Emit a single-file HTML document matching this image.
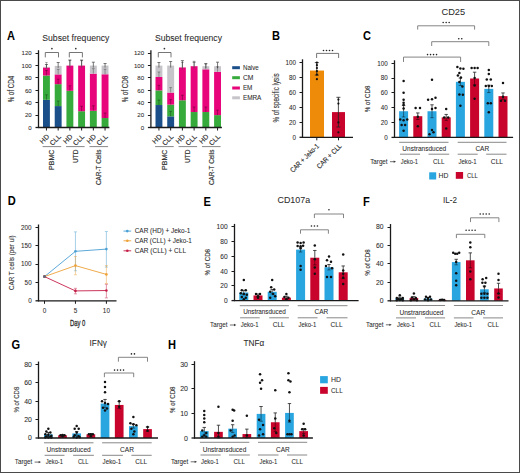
<!DOCTYPE html>
<html><head><meta charset="utf-8"><style>
html,body{margin:0;padding:0;background:#fff;width:520px;height:473px;overflow:hidden;}
svg{display:block;}
text{font-family:"Liberation Sans",sans-serif;}
</style></head><body>
<svg width="520" height="473" viewBox="0 0 520 473">
<rect width="520" height="473" fill="#fff"/>
<rect x="0.5" y="0.5" width="519" height="472" fill="none" stroke="#4a4a4a" stroke-width="1"/>
<text transform="translate(7 40) scale(0.88 1)" font-size="12.6" font-weight="bold" fill="#000">A</text>
<text transform="translate(272 40) scale(0.88 1)" font-size="12.6" font-weight="bold" fill="#000">B</text>
<text transform="translate(363 40.3) scale(0.88 1)" font-size="12.6" font-weight="bold" fill="#000">C</text>
<text transform="translate(7.7 205.2) scale(0.88 1)" font-size="12.6" font-weight="bold" fill="#000">D</text>
<text transform="translate(203.5 205.7) scale(0.88 1)" font-size="12.6" font-weight="bold" fill="#000">E</text>
<text transform="translate(363 205.6) scale(0.88 1)" font-size="12.6" font-weight="bold" fill="#000">F</text>
<text transform="translate(11.5 349) scale(0.88 1)" font-size="12.6" font-weight="bold" fill="#000">G</text>
<text transform="translate(168 349) scale(0.88 1)" font-size="12.6" font-weight="bold" fill="#000">H</text>
<text x="42.3" y="41.1" font-size="8.9" text-anchor="start" fill="#2b2b2b" font-weight="normal" stroke="#2b2b2b" stroke-width="0.06" textLength="67.1" lengthAdjust="spacingAndGlyphs">Subset frequency</text>
<rect x="43" y="99.83" width="6.9" height="27.67" fill="#1b4f8a"/>
<rect x="43" y="75.5" width="6.9" height="24.33" fill="#37aa3c"/>
<rect x="43" y="67.46" width="6.9" height="8.05" fill="#e8047a"/>
<rect x="43" y="66.84" width="6.9" height="0.62" fill="#c6c4c8"/>
<line x1="46.45" y1="64.49" x2="46.45" y2="68.84" stroke="#555" stroke-width="0.8"/>
<line x1="44.95" y1="64.49" x2="47.95" y2="64.49" stroke="#555" stroke-width="0.8"/>
<line x1="46.45" y1="94.83" x2="46.45" y2="99.83" stroke="rgba(0,0,0,0.38)" stroke-width="0.8"/>
<line x1="45.15" y1="94.83" x2="47.75" y2="94.83" stroke="rgba(0,0,0,0.38)" stroke-width="0.8"/>
<line x1="46.45" y1="70.5" x2="46.45" y2="75.5" stroke="rgba(0,0,0,0.38)" stroke-width="0.8"/>
<line x1="45.15" y1="70.5" x2="47.75" y2="70.5" stroke="rgba(0,0,0,0.38)" stroke-width="0.8"/>
<line x1="46.45" y1="62.46" x2="46.45" y2="67.46" stroke="rgba(0,0,0,0.38)" stroke-width="0.8"/>
<line x1="45.15" y1="62.46" x2="47.75" y2="62.46" stroke="rgba(0,0,0,0.38)" stroke-width="0.8"/>
<line x1="46.45" y1="127.5" x2="46.45" y2="130.5" stroke="#1a1a1a" stroke-width="1"/>
<rect x="54.72" y="106.08" width="6.9" height="21.42" fill="#1b4f8a"/>
<rect x="54.72" y="84.17" width="6.9" height="21.91" fill="#37aa3c"/>
<rect x="54.72" y="74.39" width="6.9" height="9.78" fill="#e8047a"/>
<rect x="54.72" y="65.91" width="6.9" height="8.48" fill="#c6c4c8"/>
<line x1="58.17" y1="62.5" x2="58.17" y2="67.91" stroke="#555" stroke-width="0.8"/>
<line x1="56.67" y1="62.5" x2="59.67" y2="62.5" stroke="#555" stroke-width="0.8"/>
<line x1="58.17" y1="101.08" x2="58.17" y2="106.08" stroke="rgba(0,0,0,0.38)" stroke-width="0.8"/>
<line x1="56.87" y1="101.08" x2="59.47" y2="101.08" stroke="rgba(0,0,0,0.38)" stroke-width="0.8"/>
<line x1="58.17" y1="79.17" x2="58.17" y2="84.17" stroke="rgba(0,0,0,0.38)" stroke-width="0.8"/>
<line x1="56.87" y1="79.17" x2="59.47" y2="79.17" stroke="rgba(0,0,0,0.38)" stroke-width="0.8"/>
<line x1="58.17" y1="69.39" x2="58.17" y2="74.39" stroke="rgba(0,0,0,0.38)" stroke-width="0.8"/>
<line x1="56.87" y1="69.39" x2="59.47" y2="69.39" stroke="rgba(0,0,0,0.38)" stroke-width="0.8"/>
<line x1="58.17" y1="127.5" x2="58.17" y2="130.5" stroke="#1a1a1a" stroke-width="1"/>
<rect x="66.44" y="90.79" width="6.9" height="36.71" fill="#37aa3c"/>
<rect x="66.44" y="65.6" width="6.9" height="25.19" fill="#e8047a"/>
<line x1="69.89" y1="60.03" x2="69.89" y2="67.6" stroke="#555" stroke-width="0.8"/>
<line x1="68.39" y1="60.03" x2="71.39" y2="60.03" stroke="#555" stroke-width="0.8"/>
<line x1="69.89" y1="85.79" x2="69.89" y2="90.79" stroke="rgba(0,0,0,0.38)" stroke-width="0.8"/>
<line x1="68.59" y1="85.79" x2="71.19" y2="85.79" stroke="rgba(0,0,0,0.38)" stroke-width="0.8"/>
<line x1="69.89" y1="60.6" x2="69.89" y2="65.6" stroke="rgba(0,0,0,0.38)" stroke-width="0.8"/>
<line x1="68.59" y1="60.6" x2="71.19" y2="60.6" stroke="rgba(0,0,0,0.38)" stroke-width="0.8"/>
<line x1="69.89" y1="127.5" x2="69.89" y2="130.5" stroke="#1a1a1a" stroke-width="1"/>
<rect x="78.16" y="111.22" width="6.9" height="16.28" fill="#37aa3c"/>
<rect x="78.16" y="65.6" width="6.9" height="45.62" fill="#e8047a"/>
<line x1="81.61" y1="60.09" x2="81.61" y2="67.6" stroke="#555" stroke-width="0.8"/>
<line x1="80.11" y1="60.09" x2="83.11" y2="60.09" stroke="#555" stroke-width="0.8"/>
<line x1="81.61" y1="106.22" x2="81.61" y2="111.22" stroke="rgba(0,0,0,0.38)" stroke-width="0.8"/>
<line x1="80.31" y1="106.22" x2="82.91" y2="106.22" stroke="rgba(0,0,0,0.38)" stroke-width="0.8"/>
<line x1="81.61" y1="60.6" x2="81.61" y2="65.6" stroke="rgba(0,0,0,0.38)" stroke-width="0.8"/>
<line x1="80.31" y1="60.6" x2="82.91" y2="60.6" stroke="rgba(0,0,0,0.38)" stroke-width="0.8"/>
<line x1="81.61" y1="127.5" x2="81.61" y2="130.5" stroke="#1a1a1a" stroke-width="1"/>
<rect x="89.88" y="110.79" width="6.9" height="16.71" fill="#37aa3c"/>
<rect x="89.88" y="73.65" width="6.9" height="37.14" fill="#e8047a"/>
<rect x="89.88" y="65.6" width="6.9" height="8.05" fill="#c6c4c8"/>
<line x1="93.33" y1="62.2" x2="93.33" y2="67.6" stroke="#555" stroke-width="0.8"/>
<line x1="91.83" y1="62.2" x2="94.83" y2="62.2" stroke="#555" stroke-width="0.8"/>
<line x1="93.33" y1="105.79" x2="93.33" y2="110.79" stroke="rgba(0,0,0,0.38)" stroke-width="0.8"/>
<line x1="92.03" y1="105.79" x2="94.63" y2="105.79" stroke="rgba(0,0,0,0.38)" stroke-width="0.8"/>
<line x1="93.33" y1="68.65" x2="93.33" y2="73.65" stroke="rgba(0,0,0,0.38)" stroke-width="0.8"/>
<line x1="92.03" y1="68.65" x2="94.63" y2="68.65" stroke="rgba(0,0,0,0.38)" stroke-width="0.8"/>
<line x1="93.33" y1="127.5" x2="93.33" y2="130.5" stroke="#1a1a1a" stroke-width="1"/>
<rect x="101.6" y="118.03" width="6.9" height="9.47" fill="#37aa3c"/>
<rect x="101.6" y="74.27" width="6.9" height="43.76" fill="#e8047a"/>
<rect x="101.6" y="65.6" width="6.9" height="8.67" fill="#c6c4c8"/>
<line x1="105.05" y1="63.5" x2="105.05" y2="67.6" stroke="#555" stroke-width="0.8"/>
<line x1="103.55" y1="63.5" x2="106.55" y2="63.5" stroke="#555" stroke-width="0.8"/>
<line x1="105.05" y1="113.03" x2="105.05" y2="118.03" stroke="rgba(0,0,0,0.38)" stroke-width="0.8"/>
<line x1="103.75" y1="113.03" x2="106.35" y2="113.03" stroke="rgba(0,0,0,0.38)" stroke-width="0.8"/>
<line x1="105.05" y1="69.27" x2="105.05" y2="74.27" stroke="rgba(0,0,0,0.38)" stroke-width="0.8"/>
<line x1="103.75" y1="69.27" x2="106.35" y2="69.27" stroke="rgba(0,0,0,0.38)" stroke-width="0.8"/>
<line x1="105.05" y1="127.5" x2="105.05" y2="130.5" stroke="#1a1a1a" stroke-width="1"/>
<line x1="38.5" y1="50.22" x2="38.5" y2="128" stroke="#1a1a1a" stroke-width="1.3"/>
<line x1="35.5" y1="127.5" x2="38.5" y2="127.5" stroke="#1a1a1a" stroke-width="1.3"/>
<text x="31.7" y="129.7" font-size="6.1" text-anchor="end" fill="#2b2b2b" font-weight="normal" stroke="#2b2b2b" stroke-width="0.06">0</text>
<line x1="35.5" y1="115.5" x2="38.5" y2="115.5" stroke="#1a1a1a" stroke-width="1"/>
<text x="31.7" y="117.32" font-size="6.1" text-anchor="end" fill="#2b2b2b" font-weight="normal" stroke="#2b2b2b" stroke-width="0.06">20</text>
<line x1="35.5" y1="102.5" x2="38.5" y2="102.5" stroke="#1a1a1a" stroke-width="1"/>
<text x="31.7" y="104.94" font-size="6.1" text-anchor="end" fill="#2b2b2b" font-weight="normal" stroke="#2b2b2b" stroke-width="0.06">40</text>
<line x1="35.5" y1="90.5" x2="38.5" y2="90.5" stroke="#1a1a1a" stroke-width="1"/>
<text x="31.7" y="92.56" font-size="6.1" text-anchor="end" fill="#2b2b2b" font-weight="normal" stroke="#2b2b2b" stroke-width="0.06">60</text>
<line x1="35.5" y1="77.5" x2="38.5" y2="77.5" stroke="#1a1a1a" stroke-width="1"/>
<text x="31.7" y="80.18" font-size="6.1" text-anchor="end" fill="#2b2b2b" font-weight="normal" stroke="#2b2b2b" stroke-width="0.06">80</text>
<line x1="35.5" y1="65.5" x2="38.5" y2="65.5" stroke="#1a1a1a" stroke-width="1"/>
<text x="31.7" y="67.8" font-size="6.1" text-anchor="end" fill="#2b2b2b" font-weight="normal" stroke="#2b2b2b" stroke-width="0.06">100</text>
<line x1="35.5" y1="53.5" x2="38.5" y2="53.5" stroke="#1a1a1a" stroke-width="1"/>
<text x="31.7" y="55.42" font-size="6.1" text-anchor="end" fill="#2b2b2b" font-weight="normal" stroke="#2b2b2b" stroke-width="0.06">120</text>
<line x1="38" y1="127.5" x2="109.4" y2="127.5" stroke="#1a1a1a" stroke-width="1.3"/>
<text transform="translate(49.65 137.1) rotate(-45)" font-size="6.9" text-anchor="end" fill="#2b2b2b" stroke="#2b2b2b" stroke-width="0.15">HD</text>
<text transform="translate(61.37 137.1) rotate(-45)" font-size="6.9" text-anchor="end" fill="#2b2b2b" stroke="#2b2b2b" stroke-width="0.15">CLL</text>
<text transform="translate(73.09 137.1) rotate(-45)" font-size="6.9" text-anchor="end" fill="#2b2b2b" stroke="#2b2b2b" stroke-width="0.15">HD</text>
<text transform="translate(84.81 137.1) rotate(-45)" font-size="6.9" text-anchor="end" fill="#2b2b2b" stroke="#2b2b2b" stroke-width="0.15">CLL</text>
<text transform="translate(96.53 137.1) rotate(-45)" font-size="6.9" text-anchor="end" fill="#2b2b2b" stroke="#2b2b2b" stroke-width="0.15">HD</text>
<text transform="translate(108.25 137.1) rotate(-45)" font-size="6.9" text-anchor="end" fill="#2b2b2b" stroke="#2b2b2b" stroke-width="0.15">CLL</text>
<line x1="42.6" y1="146.6" x2="61.2" y2="146.6" stroke="#7a7a7a" stroke-width="0.9"/>
<text transform="translate(54.4 149.6) rotate(-90)" x="0" y="0" font-size="7.3" text-anchor="end" fill="#2b2b2b" font-weight="normal" textLength="20.3" lengthAdjust="spacingAndGlyphs" stroke="#2b2b2b" stroke-width="0.15">PBMC</text>
<line x1="66.04" y1="146.6" x2="84.64" y2="146.6" stroke="#7a7a7a" stroke-width="0.9"/>
<text transform="translate(77.84 149.6) rotate(-90)" x="0" y="0" font-size="7.3" text-anchor="end" fill="#2b2b2b" font-weight="normal" textLength="13.3" lengthAdjust="spacingAndGlyphs" stroke="#2b2b2b" stroke-width="0.15">UTD</text>
<line x1="89.48" y1="146.6" x2="108.08" y2="146.6" stroke="#7a7a7a" stroke-width="0.9"/>
<text transform="translate(101.28 149.6) rotate(-90)" x="0" y="0" font-size="7.3" text-anchor="end" fill="#2b2b2b" font-weight="normal" textLength="35.5" lengthAdjust="spacingAndGlyphs" stroke="#2b2b2b" stroke-width="0.15">CAR-T Cells</text>
<text transform="translate(14.4 89) rotate(-90)" x="0" y="0" font-size="9" text-anchor="middle" fill="#333" font-weight="normal" textLength="26.4" lengthAdjust="spacingAndGlyphs" stroke="#333" stroke-width="0.12">% of CD4</text>
<path d="M45.3 57.4V52.5H58.5V57.4" fill="none" stroke="#666" stroke-width="0.9"/>
<circle cx="51.9" cy="48.6" r="0.85" fill="#333"/>
<path d="M69.3 57.4V52.5H82.4V57.4" fill="none" stroke="#666" stroke-width="0.9"/>
<circle cx="75.8" cy="48.6" r="0.85" fill="#333"/>
<text x="154.9" y="41.1" font-size="8.9" text-anchor="start" fill="#2b2b2b" font-weight="normal" stroke="#2b2b2b" stroke-width="0.06" textLength="67.1" lengthAdjust="spacingAndGlyphs">Subset frequency</text>
<rect x="155.5" y="105.03" width="6.9" height="22.47" fill="#1b4f8a"/>
<rect x="155.5" y="90.36" width="6.9" height="14.67" fill="#37aa3c"/>
<rect x="155.5" y="76.99" width="6.9" height="13.37" fill="#e8047a"/>
<rect x="155.5" y="65.6" width="6.9" height="11.39" fill="#c6c4c8"/>
<line x1="158.95" y1="62.5" x2="158.95" y2="67.6" stroke="#555" stroke-width="0.8"/>
<line x1="157.45" y1="62.5" x2="160.45" y2="62.5" stroke="#555" stroke-width="0.8"/>
<line x1="158.95" y1="100.03" x2="158.95" y2="105.03" stroke="rgba(0,0,0,0.38)" stroke-width="0.8"/>
<line x1="157.65" y1="100.03" x2="160.25" y2="100.03" stroke="rgba(0,0,0,0.38)" stroke-width="0.8"/>
<line x1="158.95" y1="85.36" x2="158.95" y2="90.36" stroke="rgba(0,0,0,0.38)" stroke-width="0.8"/>
<line x1="157.65" y1="85.36" x2="160.25" y2="85.36" stroke="rgba(0,0,0,0.38)" stroke-width="0.8"/>
<line x1="158.95" y1="71.99" x2="158.95" y2="76.99" stroke="rgba(0,0,0,0.38)" stroke-width="0.8"/>
<line x1="157.65" y1="71.99" x2="160.25" y2="71.99" stroke="rgba(0,0,0,0.38)" stroke-width="0.8"/>
<line x1="158.95" y1="127.5" x2="158.95" y2="130.5" stroke="#1a1a1a" stroke-width="1"/>
<rect x="167.22" y="116.36" width="6.9" height="11.14" fill="#1b4f8a"/>
<rect x="167.22" y="104.6" width="6.9" height="11.76" fill="#37aa3c"/>
<rect x="167.22" y="92.59" width="6.9" height="12.01" fill="#e8047a"/>
<rect x="167.22" y="65.6" width="6.9" height="26.99" fill="#c6c4c8"/>
<line x1="170.67" y1="61.51" x2="170.67" y2="67.6" stroke="#555" stroke-width="0.8"/>
<line x1="169.17" y1="61.51" x2="172.17" y2="61.51" stroke="#555" stroke-width="0.8"/>
<line x1="170.67" y1="111.36" x2="170.67" y2="116.36" stroke="rgba(0,0,0,0.38)" stroke-width="0.8"/>
<line x1="169.37" y1="111.36" x2="171.97" y2="111.36" stroke="rgba(0,0,0,0.38)" stroke-width="0.8"/>
<line x1="170.67" y1="99.6" x2="170.67" y2="104.6" stroke="rgba(0,0,0,0.38)" stroke-width="0.8"/>
<line x1="169.37" y1="99.6" x2="171.97" y2="99.6" stroke="rgba(0,0,0,0.38)" stroke-width="0.8"/>
<line x1="170.67" y1="87.59" x2="170.67" y2="92.59" stroke="rgba(0,0,0,0.38)" stroke-width="0.8"/>
<line x1="169.37" y1="87.59" x2="171.97" y2="87.59" stroke="rgba(0,0,0,0.38)" stroke-width="0.8"/>
<line x1="170.67" y1="127.5" x2="170.67" y2="130.5" stroke="#1a1a1a" stroke-width="1"/>
<rect x="178.94" y="100.26" width="6.9" height="27.24" fill="#37aa3c"/>
<rect x="178.94" y="67.46" width="6.9" height="32.81" fill="#e8047a"/>
<line x1="182.39" y1="60.65" x2="182.39" y2="69.46" stroke="#555" stroke-width="0.8"/>
<line x1="180.89" y1="60.65" x2="183.89" y2="60.65" stroke="#555" stroke-width="0.8"/>
<line x1="182.39" y1="95.26" x2="182.39" y2="100.26" stroke="rgba(0,0,0,0.38)" stroke-width="0.8"/>
<line x1="181.09" y1="95.26" x2="183.69" y2="95.26" stroke="rgba(0,0,0,0.38)" stroke-width="0.8"/>
<line x1="182.39" y1="62.46" x2="182.39" y2="67.46" stroke="rgba(0,0,0,0.38)" stroke-width="0.8"/>
<line x1="181.09" y1="62.46" x2="183.69" y2="62.46" stroke="rgba(0,0,0,0.38)" stroke-width="0.8"/>
<line x1="182.39" y1="127.5" x2="182.39" y2="130.5" stroke="#1a1a1a" stroke-width="1"/>
<rect x="190.66" y="112.03" width="6.9" height="15.47" fill="#37aa3c"/>
<rect x="190.66" y="66.22" width="6.9" height="45.81" fill="#e8047a"/>
<line x1="194.11" y1="62.2" x2="194.11" y2="68.22" stroke="#555" stroke-width="0.8"/>
<line x1="192.61" y1="62.2" x2="195.61" y2="62.2" stroke="#555" stroke-width="0.8"/>
<line x1="194.11" y1="107.03" x2="194.11" y2="112.03" stroke="rgba(0,0,0,0.38)" stroke-width="0.8"/>
<line x1="192.81" y1="107.03" x2="195.41" y2="107.03" stroke="rgba(0,0,0,0.38)" stroke-width="0.8"/>
<line x1="194.11" y1="61.22" x2="194.11" y2="66.22" stroke="rgba(0,0,0,0.38)" stroke-width="0.8"/>
<line x1="192.81" y1="61.22" x2="195.41" y2="61.22" stroke="rgba(0,0,0,0.38)" stroke-width="0.8"/>
<line x1="194.11" y1="127.5" x2="194.11" y2="130.5" stroke="#1a1a1a" stroke-width="1"/>
<rect x="202.38" y="112.03" width="6.9" height="15.47" fill="#37aa3c"/>
<rect x="202.38" y="69.31" width="6.9" height="42.71" fill="#e8047a"/>
<rect x="202.38" y="66.22" width="6.9" height="3.09" fill="#c6c4c8"/>
<line x1="205.83" y1="63.5" x2="205.83" y2="68.22" stroke="#555" stroke-width="0.8"/>
<line x1="204.33" y1="63.5" x2="207.33" y2="63.5" stroke="#555" stroke-width="0.8"/>
<line x1="205.83" y1="107.03" x2="205.83" y2="112.03" stroke="rgba(0,0,0,0.38)" stroke-width="0.8"/>
<line x1="204.53" y1="107.03" x2="207.13" y2="107.03" stroke="rgba(0,0,0,0.38)" stroke-width="0.8"/>
<line x1="205.83" y1="64.31" x2="205.83" y2="69.31" stroke="rgba(0,0,0,0.38)" stroke-width="0.8"/>
<line x1="204.53" y1="64.31" x2="207.13" y2="64.31" stroke="rgba(0,0,0,0.38)" stroke-width="0.8"/>
<line x1="205.83" y1="127.5" x2="205.83" y2="130.5" stroke="#1a1a1a" stroke-width="1"/>
<rect x="214.1" y="115.12" width="6.9" height="12.38" fill="#37aa3c"/>
<rect x="214.1" y="71.79" width="6.9" height="43.33" fill="#e8047a"/>
<rect x="214.1" y="66.22" width="6.9" height="5.57" fill="#c6c4c8"/>
<line x1="217.55" y1="62.2" x2="217.55" y2="68.22" stroke="#555" stroke-width="0.8"/>
<line x1="216.05" y1="62.2" x2="219.05" y2="62.2" stroke="#555" stroke-width="0.8"/>
<line x1="217.55" y1="110.12" x2="217.55" y2="115.12" stroke="rgba(0,0,0,0.38)" stroke-width="0.8"/>
<line x1="216.25" y1="110.12" x2="218.85" y2="110.12" stroke="rgba(0,0,0,0.38)" stroke-width="0.8"/>
<line x1="217.55" y1="66.79" x2="217.55" y2="71.79" stroke="rgba(0,0,0,0.38)" stroke-width="0.8"/>
<line x1="216.25" y1="66.79" x2="218.85" y2="66.79" stroke="rgba(0,0,0,0.38)" stroke-width="0.8"/>
<line x1="217.55" y1="127.5" x2="217.55" y2="130.5" stroke="#1a1a1a" stroke-width="1"/>
<line x1="150.9" y1="50.22" x2="150.9" y2="128" stroke="#1a1a1a" stroke-width="1.3"/>
<line x1="147.9" y1="127.5" x2="150.9" y2="127.5" stroke="#1a1a1a" stroke-width="1.3"/>
<text x="144.1" y="129.7" font-size="6.1" text-anchor="end" fill="#2b2b2b" font-weight="normal" stroke="#2b2b2b" stroke-width="0.06">0</text>
<line x1="147.9" y1="115.5" x2="150.9" y2="115.5" stroke="#1a1a1a" stroke-width="1"/>
<text x="144.1" y="117.32" font-size="6.1" text-anchor="end" fill="#2b2b2b" font-weight="normal" stroke="#2b2b2b" stroke-width="0.06">20</text>
<line x1="147.9" y1="102.5" x2="150.9" y2="102.5" stroke="#1a1a1a" stroke-width="1"/>
<text x="144.1" y="104.94" font-size="6.1" text-anchor="end" fill="#2b2b2b" font-weight="normal" stroke="#2b2b2b" stroke-width="0.06">40</text>
<line x1="147.9" y1="90.5" x2="150.9" y2="90.5" stroke="#1a1a1a" stroke-width="1"/>
<text x="144.1" y="92.56" font-size="6.1" text-anchor="end" fill="#2b2b2b" font-weight="normal" stroke="#2b2b2b" stroke-width="0.06">60</text>
<line x1="147.9" y1="77.5" x2="150.9" y2="77.5" stroke="#1a1a1a" stroke-width="1"/>
<text x="144.1" y="80.18" font-size="6.1" text-anchor="end" fill="#2b2b2b" font-weight="normal" stroke="#2b2b2b" stroke-width="0.06">80</text>
<line x1="147.9" y1="65.5" x2="150.9" y2="65.5" stroke="#1a1a1a" stroke-width="1"/>
<text x="144.1" y="67.8" font-size="6.1" text-anchor="end" fill="#2b2b2b" font-weight="normal" stroke="#2b2b2b" stroke-width="0.06">100</text>
<line x1="147.9" y1="53.5" x2="150.9" y2="53.5" stroke="#1a1a1a" stroke-width="1"/>
<text x="144.1" y="55.42" font-size="6.1" text-anchor="end" fill="#2b2b2b" font-weight="normal" stroke="#2b2b2b" stroke-width="0.06">120</text>
<line x1="150.4" y1="127.5" x2="221.9" y2="127.5" stroke="#1a1a1a" stroke-width="1.3"/>
<text transform="translate(162.15 137.1) rotate(-45)" font-size="6.9" text-anchor="end" fill="#2b2b2b" stroke="#2b2b2b" stroke-width="0.15">HD</text>
<text transform="translate(173.87 137.1) rotate(-45)" font-size="6.9" text-anchor="end" fill="#2b2b2b" stroke="#2b2b2b" stroke-width="0.15">CLL</text>
<text transform="translate(185.59 137.1) rotate(-45)" font-size="6.9" text-anchor="end" fill="#2b2b2b" stroke="#2b2b2b" stroke-width="0.15">HD</text>
<text transform="translate(197.31 137.1) rotate(-45)" font-size="6.9" text-anchor="end" fill="#2b2b2b" stroke="#2b2b2b" stroke-width="0.15">CLL</text>
<text transform="translate(209.03 137.1) rotate(-45)" font-size="6.9" text-anchor="end" fill="#2b2b2b" stroke="#2b2b2b" stroke-width="0.15">HD</text>
<text transform="translate(220.75 137.1) rotate(-45)" font-size="6.9" text-anchor="end" fill="#2b2b2b" stroke="#2b2b2b" stroke-width="0.15">CLL</text>
<line x1="155.1" y1="146.6" x2="173.7" y2="146.6" stroke="#7a7a7a" stroke-width="0.9"/>
<text transform="translate(166.9 149.6) rotate(-90)" x="0" y="0" font-size="7.3" text-anchor="end" fill="#2b2b2b" font-weight="normal" textLength="20.3" lengthAdjust="spacingAndGlyphs" stroke="#2b2b2b" stroke-width="0.15">PBMC</text>
<line x1="178.54" y1="146.6" x2="197.14" y2="146.6" stroke="#7a7a7a" stroke-width="0.9"/>
<text transform="translate(190.34 149.6) rotate(-90)" x="0" y="0" font-size="7.3" text-anchor="end" fill="#2b2b2b" font-weight="normal" textLength="13.3" lengthAdjust="spacingAndGlyphs" stroke="#2b2b2b" stroke-width="0.15">UTD</text>
<line x1="201.98" y1="146.6" x2="220.58" y2="146.6" stroke="#7a7a7a" stroke-width="0.9"/>
<text transform="translate(213.78 149.6) rotate(-90)" x="0" y="0" font-size="7.3" text-anchor="end" fill="#2b2b2b" font-weight="normal" textLength="35.5" lengthAdjust="spacingAndGlyphs" stroke="#2b2b2b" stroke-width="0.15">CAR-T Cells</text>
<text transform="translate(127.5 89) rotate(-90)" x="0" y="0" font-size="9" text-anchor="middle" fill="#333" font-weight="normal" textLength="26.4" lengthAdjust="spacingAndGlyphs" stroke="#333" stroke-width="0.12">% of CD8</text>
<path d="M158.3 57.4V52.5H171V57.4" fill="none" stroke="#666" stroke-width="0.9"/>
<circle cx="164.4" cy="48.6" r="0.85" fill="#333"/>
<rect x="232.2" y="66.2" width="7.7" height="3" fill="#1b4f8a"/>
<text x="242.9" y="70" font-size="6.6" text-anchor="start" fill="#2b2b2b" font-weight="normal" stroke="#2b2b2b" stroke-width="0.06" textLength="15.9" lengthAdjust="spacingAndGlyphs">Naive</text>
<rect x="232.2" y="76.2" width="7.7" height="3" fill="#37aa3c"/>
<text x="242.9" y="80" font-size="6.6" text-anchor="start" fill="#2b2b2b" font-weight="normal" stroke="#2b2b2b" stroke-width="0.06" textLength="10.5" lengthAdjust="spacingAndGlyphs">CM</text>
<rect x="232.2" y="86.5" width="7.7" height="3" fill="#e8047a"/>
<text x="242.9" y="90.3" font-size="6.6" text-anchor="start" fill="#2b2b2b" font-weight="normal" stroke="#2b2b2b" stroke-width="0.06" textLength="9.5" lengthAdjust="spacingAndGlyphs">EM</text>
<rect x="232.2" y="96.3" width="7.7" height="3" fill="#c6c4c8"/>
<text x="242.9" y="100.1" font-size="6.6" text-anchor="start" fill="#2b2b2b" font-weight="normal" stroke="#2b2b2b" stroke-width="0.06" textLength="18.5" lengthAdjust="spacingAndGlyphs">EMRA</text>
<rect x="310" y="70.55" width="14" height="66.75" fill="#ee8c0a"/>
<rect x="332" y="112.1" width="13" height="25.2" fill="#c8042c"/>
<line x1="316.8" y1="62.6" x2="316.8" y2="75.1" stroke="#222" stroke-width="0.8"/>
<line x1="314.8" y1="62.6" x2="318.8" y2="62.6" stroke="#222" stroke-width="0.8"/>
<line x1="314.8" y1="75.1" x2="318.8" y2="75.1" stroke="#222" stroke-width="0.8"/>
<line x1="338.4" y1="97.3" x2="338.4" y2="127" stroke="#222" stroke-width="0.8"/>
<line x1="336.4" y1="97.3" x2="340.4" y2="97.3" stroke="#222" stroke-width="0.8"/>
<line x1="336.4" y1="127" x2="340.4" y2="127" stroke="#222" stroke-width="0.8"/>
<circle cx="316.9" cy="62.6" r="1.1" fill="#111"/>
<circle cx="316.9" cy="65.2" r="1.1" fill="#111"/>
<circle cx="316.9" cy="68" r="1.1" fill="#111"/>
<circle cx="316.9" cy="71.2" r="1.1" fill="#111"/>
<circle cx="316.9" cy="74.6" r="1.1" fill="#111"/>
<circle cx="316.9" cy="79.2" r="1.1" fill="#111"/>
<circle cx="338.4" cy="99.6" r="1.1" fill="#111"/>
<circle cx="338.4" cy="103.6" r="1.1" fill="#111"/>
<circle cx="338.4" cy="122.4" r="1.1" fill="#111"/>
<circle cx="338.4" cy="132.3" r="1.1" fill="#111"/>
<line x1="302.5" y1="59.3" x2="302.5" y2="137.8" stroke="#1a1a1a" stroke-width="1.3"/>
<line x1="299.5" y1="137.3" x2="302.5" y2="137.3" stroke="#1a1a1a" stroke-width="1.3"/>
<text x="295.9" y="139.57" font-size="6.3" text-anchor="end" fill="#2b2b2b" font-weight="normal" stroke="#2b2b2b" stroke-width="0.06">0</text>
<line x1="299.5" y1="122.5" x2="302.5" y2="122.5" stroke="#1a1a1a" stroke-width="1"/>
<text x="295.9" y="124.57" font-size="6.3" text-anchor="end" fill="#2b2b2b" font-weight="normal" stroke="#2b2b2b" stroke-width="0.06">20</text>
<line x1="299.5" y1="107.5" x2="302.5" y2="107.5" stroke="#1a1a1a" stroke-width="1"/>
<text x="295.9" y="109.57" font-size="6.3" text-anchor="end" fill="#2b2b2b" font-weight="normal" stroke="#2b2b2b" stroke-width="0.06">40</text>
<line x1="299.5" y1="92.5" x2="302.5" y2="92.5" stroke="#1a1a1a" stroke-width="1"/>
<text x="295.9" y="94.57" font-size="6.3" text-anchor="end" fill="#2b2b2b" font-weight="normal" stroke="#2b2b2b" stroke-width="0.06">60</text>
<line x1="299.5" y1="77.5" x2="302.5" y2="77.5" stroke="#1a1a1a" stroke-width="1"/>
<text x="295.9" y="79.57" font-size="6.3" text-anchor="end" fill="#2b2b2b" font-weight="normal" stroke="#2b2b2b" stroke-width="0.06">80</text>
<line x1="299.5" y1="62.5" x2="302.5" y2="62.5" stroke="#1a1a1a" stroke-width="1"/>
<text x="295.9" y="64.57" font-size="6.3" text-anchor="end" fill="#2b2b2b" font-weight="normal" stroke="#2b2b2b" stroke-width="0.06">100</text>
<line x1="302" y1="137.3" x2="353" y2="137.3" stroke="#1a1a1a" stroke-width="1.3"/>
<line x1="316.8" y1="137.3" x2="316.8" y2="140.3" stroke="#1a1a1a" stroke-width="1"/>
<line x1="338.5" y1="137.3" x2="338.5" y2="140.3" stroke="#1a1a1a" stroke-width="1"/>
<text transform="translate(319.5 146.6) rotate(-45)" font-size="7.1" text-anchor="end" fill="#2b2b2b" stroke="#2b2b2b" stroke-width="0.14" textLength="37.5" lengthAdjust="spacingAndGlyphs">CAR + Jeko-1</text>
<text transform="translate(342.1 146.6) rotate(-45)" font-size="7.1" text-anchor="end" fill="#2b2b2b" stroke="#2b2b2b" stroke-width="0.14" textLength="32" lengthAdjust="spacingAndGlyphs">CAR + CLL</text>
<text transform="translate(278.6 97.9) rotate(-90)" x="0" y="0" font-size="8.4" text-anchor="middle" fill="#333" font-weight="normal" textLength="49.3" lengthAdjust="spacingAndGlyphs" stroke="#333" stroke-width="0.12">% of specific lysis</text>
<path d="M316.6 58V53.4H338.6V58" fill="none" stroke="#666" stroke-width="0.9"/>
<circle cx="323.5" cy="50.5" r="0.8" fill="#222"/>
<circle cx="326.5" cy="50.5" r="0.8" fill="#222"/>
<circle cx="329.5" cy="50.5" r="0.8" fill="#222"/>
<circle cx="332.5" cy="50.5" r="0.8" fill="#222"/>
<text x="441.5" y="15.2" font-size="9.9" text-anchor="start" fill="#2b2b2b" font-weight="normal" stroke="#2b2b2b" stroke-width="0.06" textLength="23.6" lengthAdjust="spacingAndGlyphs">CD25</text>
<path d="M417.7 29.6V25.8H474.6V29.6" fill="none" stroke="#777" stroke-width="0.9"/>
<circle cx="443.15" cy="22.5" r="0.8" fill="#222"/>
<circle cx="446.15" cy="22.5" r="0.8" fill="#222"/>
<circle cx="449.15" cy="22.5" r="0.8" fill="#222"/>
<path d="M431.7 46V41.7H488.8V46" fill="none" stroke="#777" stroke-width="0.9"/>
<circle cx="458.75" cy="38.8" r="0.8" fill="#222"/>
<circle cx="461.75" cy="38.8" r="0.8" fill="#222"/>
<path d="M403.5 62V57.1H460.6V62" fill="none" stroke="#777" stroke-width="0.9"/>
<circle cx="427.55" cy="54.6" r="0.8" fill="#222"/>
<circle cx="430.55" cy="54.6" r="0.8" fill="#222"/>
<circle cx="433.55" cy="54.6" r="0.8" fill="#222"/>
<circle cx="436.55" cy="54.6" r="0.8" fill="#222"/>
<rect x="399.1" y="111.24" width="9" height="26.16" fill="#29a5e0"/>
<rect x="413.3" y="116.21" width="9" height="21.19" fill="#c8042c"/>
<rect x="427.5" y="111.24" width="9" height="26.16" fill="#29a5e0"/>
<rect x="441.7" y="117.39" width="9" height="20.01" fill="#c8042c"/>
<rect x="455.9" y="81.83" width="9" height="55.58" fill="#29a5e0"/>
<rect x="470.1" y="78.49" width="9" height="58.91" fill="#c8042c"/>
<rect x="484.3" y="88.86" width="9" height="48.54" fill="#29a5e0"/>
<rect x="498.5" y="96.13" width="9" height="41.27" fill="#c8042c"/>
<line x1="403.6" y1="105.54" x2="403.6" y2="111.24" stroke="#222" stroke-width="0.8"/>
<line x1="401.9" y1="105.54" x2="405.3" y2="105.54" stroke="#222" stroke-width="0.8"/>
<line x1="403.6" y1="111.24" x2="403.6" y2="116.95" stroke="rgba(0,0,0,0.55)" stroke-width="0.8"/>
<line x1="401.9" y1="116.95" x2="405.3" y2="116.95" stroke="rgba(0,0,0,0.55)" stroke-width="0.8"/>
<circle cx="403.6" cy="81.08" r="1.25" fill="#111"/>
<circle cx="403.6" cy="92.72" r="1.25" fill="#111"/>
<circle cx="403.6" cy="99.68" r="1.25" fill="#111"/>
<circle cx="403.6" cy="102.72" r="1.25" fill="#111"/>
<circle cx="403.6" cy="104.8" r="1.25" fill="#111"/>
<circle cx="403.6" cy="108.58" r="1.25" fill="#111"/>
<circle cx="400.2" cy="119.47" r="1.25" fill="#111"/>
<circle cx="403.6" cy="120.21" r="1.25" fill="#111"/>
<circle cx="407.2" cy="119.47" r="1.25" fill="#111"/>
<circle cx="401.6" cy="125.1" r="1.25" fill="#111"/>
<circle cx="405.1" cy="125.1" r="1.25" fill="#111"/>
<circle cx="403.6" cy="130.73" r="1.25" fill="#111"/>
<line x1="417.8" y1="112.95" x2="417.8" y2="116.21" stroke="#222" stroke-width="0.8"/>
<line x1="416.1" y1="112.95" x2="419.5" y2="112.95" stroke="#222" stroke-width="0.8"/>
<line x1="417.8" y1="116.21" x2="417.8" y2="119.47" stroke="rgba(0,0,0,0.55)" stroke-width="0.8"/>
<line x1="416.1" y1="119.47" x2="419.5" y2="119.47" stroke="rgba(0,0,0,0.55)" stroke-width="0.8"/>
<circle cx="415.6" cy="107.98" r="1.25" fill="#111"/>
<circle cx="420" cy="107.98" r="1.25" fill="#111"/>
<circle cx="417.8" cy="116.65" r="1.25" fill="#111"/>
<circle cx="417.8" cy="126.21" r="1.25" fill="#111"/>
<line x1="432" y1="104.8" x2="432" y2="111.24" stroke="#222" stroke-width="0.8"/>
<line x1="430.3" y1="104.8" x2="433.7" y2="104.8" stroke="#222" stroke-width="0.8"/>
<line x1="432" y1="111.24" x2="432" y2="117.69" stroke="rgba(0,0,0,0.55)" stroke-width="0.8"/>
<line x1="430.3" y1="117.69" x2="433.7" y2="117.69" stroke="rgba(0,0,0,0.55)" stroke-width="0.8"/>
<circle cx="432" cy="79.68" r="1.25" fill="#111"/>
<circle cx="428.1" cy="99.68" r="1.25" fill="#111"/>
<circle cx="432" cy="99.24" r="1.25" fill="#111"/>
<circle cx="435.5" cy="97.83" r="1.25" fill="#111"/>
<circle cx="432" cy="109.02" r="1.25" fill="#111"/>
<circle cx="435.5" cy="107.98" r="1.25" fill="#111"/>
<circle cx="432" cy="129.99" r="1.25" fill="#111"/>
<circle cx="429.5" cy="134.21" r="1.25" fill="#111"/>
<circle cx="433.5" cy="132.29" r="1.25" fill="#111"/>
<line x1="446.2" y1="114.43" x2="446.2" y2="117.39" stroke="#222" stroke-width="0.8"/>
<line x1="444.5" y1="114.43" x2="447.9" y2="114.43" stroke="#222" stroke-width="0.8"/>
<line x1="446.2" y1="117.39" x2="446.2" y2="120.36" stroke="rgba(0,0,0,0.55)" stroke-width="0.8"/>
<line x1="444.5" y1="120.36" x2="447.9" y2="120.36" stroke="rgba(0,0,0,0.55)" stroke-width="0.8"/>
<circle cx="446.2" cy="109.02" r="1.25" fill="#111"/>
<circle cx="444.2" cy="117.39" r="1.25" fill="#111"/>
<circle cx="448.2" cy="117.39" r="1.25" fill="#111"/>
<circle cx="446.2" cy="128.58" r="1.25" fill="#111"/>
<line x1="460.4" y1="78.12" x2="460.4" y2="81.83" stroke="#222" stroke-width="0.8"/>
<line x1="458.7" y1="78.12" x2="462.1" y2="78.12" stroke="#222" stroke-width="0.8"/>
<line x1="460.4" y1="81.83" x2="460.4" y2="85.53" stroke="rgba(0,0,0,0.55)" stroke-width="0.8"/>
<line x1="458.7" y1="85.53" x2="462.1" y2="85.53" stroke="rgba(0,0,0,0.55)" stroke-width="0.8"/>
<circle cx="457.4" cy="67.01" r="1.25" fill="#111"/>
<circle cx="460.4" cy="68.49" r="1.25" fill="#111"/>
<circle cx="463.4" cy="68.71" r="1.25" fill="#111"/>
<circle cx="459.4" cy="72.93" r="1.25" fill="#111"/>
<circle cx="457.9" cy="75.45" r="1.25" fill="#111"/>
<circle cx="460.9" cy="77.38" r="1.25" fill="#111"/>
<circle cx="459.4" cy="82.12" r="1.25" fill="#111"/>
<circle cx="462.4" cy="86.42" r="1.25" fill="#111"/>
<circle cx="459.4" cy="94.42" r="1.25" fill="#111"/>
<circle cx="462.9" cy="94.87" r="1.25" fill="#111"/>
<circle cx="460.4" cy="105.83" r="1.25" fill="#111"/>
<line x1="474.6" y1="72.19" x2="474.6" y2="78.49" stroke="#222" stroke-width="0.8"/>
<line x1="472.9" y1="72.19" x2="476.3" y2="72.19" stroke="#222" stroke-width="0.8"/>
<line x1="474.6" y1="78.49" x2="474.6" y2="84.79" stroke="rgba(0,0,0,0.55)" stroke-width="0.8"/>
<line x1="472.9" y1="84.79" x2="476.3" y2="84.79" stroke="rgba(0,0,0,0.55)" stroke-width="0.8"/>
<circle cx="471.6" cy="67.89" r="1.25" fill="#111"/>
<circle cx="474.6" cy="67.89" r="1.25" fill="#111"/>
<circle cx="477.6" cy="67.89" r="1.25" fill="#111"/>
<circle cx="474.6" cy="78.12" r="1.25" fill="#111"/>
<circle cx="474.6" cy="85.53" r="1.25" fill="#111"/>
<circle cx="474.6" cy="98.87" r="1.25" fill="#111"/>
<line x1="488.8" y1="85.16" x2="488.8" y2="88.86" stroke="#222" stroke-width="0.8"/>
<line x1="487.1" y1="85.16" x2="490.5" y2="85.16" stroke="#222" stroke-width="0.8"/>
<line x1="488.8" y1="88.86" x2="488.8" y2="92.57" stroke="rgba(0,0,0,0.55)" stroke-width="0.8"/>
<line x1="487.1" y1="92.57" x2="490.5" y2="92.57" stroke="rgba(0,0,0,0.55)" stroke-width="0.8"/>
<circle cx="488.8" cy="70.04" r="1.25" fill="#111"/>
<circle cx="488.8" cy="74.12" r="1.25" fill="#111"/>
<circle cx="486.8" cy="79.6" r="1.25" fill="#111"/>
<circle cx="490.8" cy="79.6" r="1.25" fill="#111"/>
<circle cx="485.8" cy="85.9" r="1.25" fill="#111"/>
<circle cx="488.8" cy="85.9" r="1.25" fill="#111"/>
<circle cx="491.8" cy="85.9" r="1.25" fill="#111"/>
<circle cx="487.8" cy="103.31" r="1.25" fill="#111"/>
<circle cx="490.8" cy="103.31" r="1.25" fill="#111"/>
<circle cx="488.8" cy="112.21" r="1.25" fill="#111"/>
<line x1="503" y1="92.94" x2="503" y2="96.13" stroke="#222" stroke-width="0.8"/>
<line x1="501.3" y1="92.94" x2="504.7" y2="92.94" stroke="#222" stroke-width="0.8"/>
<line x1="503" y1="96.13" x2="503" y2="99.31" stroke="rgba(0,0,0,0.55)" stroke-width="0.8"/>
<line x1="501.3" y1="99.31" x2="504.7" y2="99.31" stroke="rgba(0,0,0,0.55)" stroke-width="0.8"/>
<circle cx="503" cy="83.01" r="1.25" fill="#111"/>
<circle cx="501" cy="100.72" r="1.25" fill="#111"/>
<circle cx="505" cy="100.72" r="1.25" fill="#111"/>
<circle cx="503" cy="96.65" r="1.25" fill="#111"/>
<line x1="394.5" y1="60.3" x2="394.5" y2="137.9" stroke="#1a1a1a" stroke-width="1.3"/>
<line x1="391.5" y1="137.4" x2="394.5" y2="137.4" stroke="#1a1a1a" stroke-width="1.3"/>
<text x="387.8" y="139.67" font-size="6.3" text-anchor="end" fill="#2b2b2b" font-weight="normal" stroke="#2b2b2b" stroke-width="0.06">0</text>
<line x1="391.5" y1="122.5" x2="394.5" y2="122.5" stroke="#1a1a1a" stroke-width="1"/>
<text x="387.8" y="124.85" font-size="6.3" text-anchor="end" fill="#2b2b2b" font-weight="normal" stroke="#2b2b2b" stroke-width="0.06">20</text>
<line x1="391.5" y1="107.5" x2="394.5" y2="107.5" stroke="#1a1a1a" stroke-width="1"/>
<text x="387.8" y="110.03" font-size="6.3" text-anchor="end" fill="#2b2b2b" font-weight="normal" stroke="#2b2b2b" stroke-width="0.06">40</text>
<line x1="391.5" y1="92.5" x2="394.5" y2="92.5" stroke="#1a1a1a" stroke-width="1"/>
<text x="387.8" y="95.21" font-size="6.3" text-anchor="end" fill="#2b2b2b" font-weight="normal" stroke="#2b2b2b" stroke-width="0.06">60</text>
<line x1="391.5" y1="78.5" x2="394.5" y2="78.5" stroke="#1a1a1a" stroke-width="1"/>
<text x="387.8" y="80.39" font-size="6.3" text-anchor="end" fill="#2b2b2b" font-weight="normal" stroke="#2b2b2b" stroke-width="0.06">80</text>
<line x1="391.5" y1="63.5" x2="394.5" y2="63.5" stroke="#1a1a1a" stroke-width="1"/>
<text x="387.8" y="65.57" font-size="6.3" text-anchor="end" fill="#2b2b2b" font-weight="normal" stroke="#2b2b2b" stroke-width="0.06">100</text>
<line x1="394" y1="137.4" x2="513.1" y2="137.4" stroke="#1a1a1a" stroke-width="1.3"/>
<text transform="translate(370.4 98.9) rotate(-90)" x="0" y="0" font-size="7.8" text-anchor="middle" fill="#333" font-weight="normal" textLength="26.5" lengthAdjust="spacingAndGlyphs" stroke="#333" stroke-width="0.12">% of CD8</text>
<line x1="399.2" y1="142.3" x2="448.5" y2="142.3" stroke="#7a7a7a" stroke-width="0.9"/>
<line x1="457.7" y1="142.3" x2="506.5" y2="142.3" stroke="#7a7a7a" stroke-width="0.9"/>
<line x1="400" y1="154.2" x2="420" y2="154.2" stroke="#7a7a7a" stroke-width="0.9"/>
<line x1="428.5" y1="154.2" x2="449.2" y2="154.2" stroke="#7a7a7a" stroke-width="0.9"/>
<line x1="457.7" y1="154.2" x2="477.7" y2="154.2" stroke="#7a7a7a" stroke-width="0.9"/>
<line x1="486.2" y1="154.2" x2="506.5" y2="154.2" stroke="#7a7a7a" stroke-width="0.9"/>
<text x="402.3" y="151.4" font-size="6.8" text-anchor="start" fill="#2b2b2b" font-weight="normal" stroke="#2b2b2b" stroke-width="0.06" textLength="43.9" lengthAdjust="spacingAndGlyphs">Unstransduced</text>
<text x="475.4" y="151.4" font-size="6.8" text-anchor="start" fill="#2b2b2b" font-weight="normal" stroke="#2b2b2b" stroke-width="0.06" textLength="13.8" lengthAdjust="spacingAndGlyphs">CAR</text>
<text x="400.8" y="163.7" font-size="6.8" text-anchor="start" fill="#2b2b2b" font-weight="normal" stroke="#2b2b2b" stroke-width="0.06" textLength="17.2" lengthAdjust="spacingAndGlyphs">Jeko-1</text>
<text x="433" y="163.7" font-size="6.8" text-anchor="start" fill="#2b2b2b" font-weight="normal" stroke="#2b2b2b" stroke-width="0.06" textLength="11.6" lengthAdjust="spacingAndGlyphs">CLL</text>
<text x="458.5" y="163.7" font-size="6.8" text-anchor="start" fill="#2b2b2b" font-weight="normal" stroke="#2b2b2b" stroke-width="0.06" textLength="18.1" lengthAdjust="spacingAndGlyphs">Jeko-1</text>
<text x="490.8" y="163.7" font-size="6.8" text-anchor="start" fill="#2b2b2b" font-weight="normal" stroke="#2b2b2b" stroke-width="0.06" textLength="12.3" lengthAdjust="spacingAndGlyphs">CLL</text>
<text x="370.2" y="163.7" font-size="6.8" text-anchor="start" fill="#2b2b2b" font-weight="normal" stroke="#2b2b2b" stroke-width="0.06" textLength="17.4" lengthAdjust="spacingAndGlyphs">Target</text>
<line x1="390" y1="161.7" x2="394.2" y2="161.7" stroke="#333" stroke-width="0.7"/>
<path d="M393.7 160.55L396 161.7L393.7 162.85Z" fill="#333"/>
<rect x="429.2" y="172.3" width="7" height="7.2" fill="#29a5e0"/>
<text x="438.5" y="177.9" font-size="6.8" text-anchor="start" fill="#2b2b2b" font-weight="normal" stroke="#2b2b2b" stroke-width="0.06">HD</text>
<rect x="455.8" y="172" width="7.3" height="6.8" fill="#c8042c"/>
<text x="466.9" y="177.7" font-size="6.8" text-anchor="start" fill="#2b2b2b" font-weight="normal" stroke="#2b2b2b" stroke-width="0.06" textLength="10.8" lengthAdjust="spacingAndGlyphs">CLL</text>
<g opacity="0.6">
<line x1="75.45" y1="231.9" x2="75.45" y2="270.75" stroke="#4a9fd4" stroke-width="0.8"/>
<line x1="73.95" y1="231.9" x2="76.95" y2="231.9" stroke="#4a9fd4" stroke-width="0.8"/>
<line x1="73.95" y1="270.75" x2="76.95" y2="270.75" stroke="#4a9fd4" stroke-width="0.8"/>
</g>
<g opacity="0.6">
<line x1="106.4" y1="231.53" x2="106.4" y2="267.08" stroke="#4a9fd4" stroke-width="0.8"/>
<line x1="104.9" y1="231.53" x2="107.9" y2="231.53" stroke="#4a9fd4" stroke-width="0.8"/>
<line x1="104.9" y1="267.08" x2="107.9" y2="267.08" stroke="#4a9fd4" stroke-width="0.8"/>
</g>
<path d="M44.5 276.61 L75.45 251.32 L106.4 249.12" fill="none" stroke="#4a9fd4" stroke-width="0.9"/>
<circle cx="44.5" cy="276.61" r="1.3" fill="#4a9fd4"/>
<circle cx="75.45" cy="251.32" r="1.3" fill="#4a9fd4"/>
<circle cx="106.4" cy="249.12" r="1.3" fill="#4a9fd4"/>
<g opacity="0.6">
<line x1="75.45" y1="256.45" x2="75.45" y2="274.78" stroke="#eda238" stroke-width="0.8"/>
<line x1="73.95" y1="256.45" x2="76.95" y2="256.45" stroke="#eda238" stroke-width="0.8"/>
<line x1="73.95" y1="274.78" x2="76.95" y2="274.78" stroke="#eda238" stroke-width="0.8"/>
</g>
<g opacity="0.6">
<line x1="106.4" y1="265.62" x2="106.4" y2="283.57" stroke="#eda238" stroke-width="0.8"/>
<line x1="104.9" y1="265.62" x2="107.9" y2="265.62" stroke="#eda238" stroke-width="0.8"/>
<line x1="104.9" y1="283.57" x2="107.9" y2="283.57" stroke="#eda238" stroke-width="0.8"/>
</g>
<path d="M44.5 276.61 L75.45 265.62 L106.4 274.41" fill="none" stroke="#eda238" stroke-width="0.9"/>
<circle cx="44.5" cy="276.61" r="1.3" fill="#eda238"/>
<circle cx="75.45" cy="265.62" r="1.3" fill="#eda238"/>
<circle cx="106.4" cy="274.41" r="1.3" fill="#eda238"/>
<g opacity="0.6">
<line x1="75.45" y1="288.34" x2="75.45" y2="293.84" stroke="#c41f48" stroke-width="0.8"/>
<line x1="73.95" y1="288.34" x2="76.95" y2="288.34" stroke="#c41f48" stroke-width="0.8"/>
<line x1="73.95" y1="293.84" x2="76.95" y2="293.84" stroke="#c41f48" stroke-width="0.8"/>
</g>
<g opacity="0.6">
<line x1="106.4" y1="284.31" x2="106.4" y2="297.87" stroke="#c41f48" stroke-width="0.8"/>
<line x1="104.9" y1="284.31" x2="107.9" y2="284.31" stroke="#c41f48" stroke-width="0.8"/>
<line x1="104.9" y1="297.87" x2="107.9" y2="297.87" stroke="#c41f48" stroke-width="0.8"/>
</g>
<path d="M44.5 276.61 L75.45 290.9 L106.4 290.54" fill="none" stroke="#c41f48" stroke-width="0.9"/>
<circle cx="44.5" cy="276.61" r="1.3" fill="#c41f48"/>
<circle cx="75.45" cy="290.9" r="1.3" fill="#c41f48"/>
<circle cx="106.4" cy="290.54" r="1.3" fill="#c41f48"/>
<circle cx="44.5" cy="276.61" r="1.4" fill="#5a6f80"/>
<line x1="38.5" y1="224.5" x2="38.5" y2="301.3" stroke="#1a1a1a" stroke-width="1.3"/>
<line x1="35.5" y1="300.8" x2="38.5" y2="300.8" stroke="#1a1a1a" stroke-width="1.3"/>
<text x="31.7" y="303.1" font-size="6.4" text-anchor="end" fill="#2b2b2b" font-weight="normal" stroke="#2b2b2b" stroke-width="0.06">0</text>
<line x1="35.5" y1="282.5" x2="38.5" y2="282.5" stroke="#1a1a1a" stroke-width="1"/>
<text x="31.7" y="284.78" font-size="6.4" text-anchor="end" fill="#2b2b2b" font-weight="normal" stroke="#2b2b2b" stroke-width="0.06">50</text>
<line x1="35.5" y1="264.5" x2="38.5" y2="264.5" stroke="#1a1a1a" stroke-width="1"/>
<text x="31.7" y="266.45" font-size="6.4" text-anchor="end" fill="#2b2b2b" font-weight="normal" stroke="#2b2b2b" stroke-width="0.06">100</text>
<line x1="35.5" y1="245.5" x2="38.5" y2="245.5" stroke="#1a1a1a" stroke-width="1"/>
<text x="31.7" y="248.13" font-size="6.4" text-anchor="end" fill="#2b2b2b" font-weight="normal" stroke="#2b2b2b" stroke-width="0.06">150</text>
<line x1="35.5" y1="227.5" x2="38.5" y2="227.5" stroke="#1a1a1a" stroke-width="1"/>
<text x="31.7" y="229.8" font-size="6.4" text-anchor="end" fill="#2b2b2b" font-weight="normal" stroke="#2b2b2b" stroke-width="0.06">200</text>
<line x1="38" y1="300.8" x2="116.5" y2="300.8" stroke="#1a1a1a" stroke-width="1.3"/>
<line x1="44.5" y1="300.8" x2="44.5" y2="303.8" stroke="#1a1a1a" stroke-width="1"/>
<text x="44.5" y="313.2" font-size="6.4" text-anchor="middle" fill="#2b2b2b" font-weight="normal" stroke="#2b2b2b" stroke-width="0.06">0</text>
<line x1="75.45" y1="300.8" x2="75.45" y2="303.8" stroke="#1a1a1a" stroke-width="1"/>
<text x="75.45" y="313.2" font-size="6.4" text-anchor="middle" fill="#2b2b2b" font-weight="normal" stroke="#2b2b2b" stroke-width="0.06">5</text>
<line x1="106.4" y1="300.8" x2="106.4" y2="303.8" stroke="#1a1a1a" stroke-width="1"/>
<text x="106.4" y="313.2" font-size="6.4" text-anchor="middle" fill="#2b2b2b" font-weight="normal" stroke="#2b2b2b" stroke-width="0.06">10</text>
<text x="70" y="326.2" font-size="9.2" text-anchor="start" fill="#2b2b2b" font-weight="normal" textLength="15.4" lengthAdjust="spacingAndGlyphs" stroke="#2b2b2b" stroke-width="0.3">Day 0</text>
<text transform="translate(14.2 262.7) rotate(-90)" x="0" y="0" font-size="7.8" text-anchor="middle" fill="#333" font-weight="normal" textLength="54.8" lengthAdjust="spacingAndGlyphs" stroke="#333" stroke-width="0.12">CAR T cells (per ul)</text>
<line x1="123.5" y1="231.1" x2="131.2" y2="231.1" stroke="#4a9fd4" stroke-width="0.9"/>
<circle cx="127.3" cy="231.1" r="1.3" fill="#4a9fd4"/>
<text x="134.7" y="233.4" font-size="6.4" text-anchor="start" fill="#2b2b2b" font-weight="normal" stroke="#2b2b2b" stroke-width="0.06" textLength="55.7" lengthAdjust="spacingAndGlyphs">CAR (HD) + Jeko-1</text>
<line x1="123.5" y1="240.8" x2="131.2" y2="240.8" stroke="#eda238" stroke-width="0.9"/>
<circle cx="127.3" cy="240.8" r="1.3" fill="#eda238"/>
<text x="134.7" y="243.1" font-size="6.4" text-anchor="start" fill="#2b2b2b" font-weight="normal" stroke="#2b2b2b" stroke-width="0.06" textLength="57.2" lengthAdjust="spacingAndGlyphs">CAR (CLL) + Jeko-1</text>
<line x1="123.5" y1="250.8" x2="131.2" y2="250.8" stroke="#c41f48" stroke-width="0.9"/>
<circle cx="127.3" cy="250.8" r="1.3" fill="#c41f48"/>
<text x="134.7" y="253.1" font-size="6.4" text-anchor="start" fill="#2b2b2b" font-weight="normal" stroke="#2b2b2b" stroke-width="0.06" textLength="51.4" lengthAdjust="spacingAndGlyphs">CAR (CLL) + CLL</text>
<text x="277.5" y="203.1" font-size="9.6" text-anchor="start" fill="#2b2b2b" font-weight="normal" stroke="#2b2b2b" stroke-width="0.06" textLength="32.6" lengthAdjust="spacingAndGlyphs">CD107a</text>
<path d="M300.5 233.7V229.8H328.4V233.7" fill="none" stroke="#777" stroke-width="0.9"/>
<circle cx="311.45" cy="226" r="0.8" fill="#222"/>
<circle cx="314.45" cy="226" r="0.8" fill="#222"/>
<circle cx="317.45" cy="226" r="0.8" fill="#222"/>
<path d="M314.4 218.1V214H343.5V218.1" fill="none" stroke="#777" stroke-width="0.9"/>
<circle cx="328.95" cy="209.8" r="0.8" fill="#222"/>
<rect x="239.3" y="292.49" width="9" height="8.11" fill="#29a5e0"/>
<rect x="253.5" y="295.44" width="9" height="5.16" fill="#c8042c"/>
<rect x="267.7" y="291.76" width="9" height="8.84" fill="#29a5e0"/>
<rect x="281.9" y="297.65" width="9" height="2.95" fill="#c8042c"/>
<rect x="296.1" y="249.6" width="9" height="51" fill="#29a5e0"/>
<rect x="310.3" y="257.71" width="9" height="42.89" fill="#c8042c"/>
<rect x="324.5" y="267.21" width="9" height="33.39" fill="#29a5e0"/>
<rect x="338.7" y="272.3" width="9" height="28.3" fill="#c8042c"/>
<line x1="243.8" y1="290.28" x2="243.8" y2="292.49" stroke="#222" stroke-width="0.8"/>
<line x1="242.1" y1="290.28" x2="245.5" y2="290.28" stroke="#222" stroke-width="0.8"/>
<line x1="243.8" y1="292.49" x2="243.8" y2="294.7" stroke="rgba(0,0,0,0.55)" stroke-width="0.8"/>
<line x1="242.1" y1="294.7" x2="245.5" y2="294.7" stroke="rgba(0,0,0,0.55)" stroke-width="0.8"/>
<circle cx="243.8" cy="279.96" r="1.25" fill="#111"/>
<circle cx="241.8" cy="290.28" r="1.25" fill="#111"/>
<circle cx="245.8" cy="290.28" r="1.25" fill="#111"/>
<circle cx="240.8" cy="293.23" r="1.25" fill="#111"/>
<circle cx="243.8" cy="293.97" r="1.25" fill="#111"/>
<circle cx="246.8" cy="294.7" r="1.25" fill="#111"/>
<circle cx="241.8" cy="296.92" r="1.25" fill="#111"/>
<circle cx="245.8" cy="297.65" r="1.25" fill="#111"/>
<circle cx="243.8" cy="299.13" r="1.25" fill="#111"/>
<line x1="258" y1="293.97" x2="258" y2="295.44" stroke="#222" stroke-width="0.8"/>
<line x1="256.3" y1="293.97" x2="259.7" y2="293.97" stroke="#222" stroke-width="0.8"/>
<line x1="258" y1="295.44" x2="258" y2="296.92" stroke="rgba(0,0,0,0.55)" stroke-width="0.8"/>
<line x1="256.3" y1="296.92" x2="259.7" y2="296.92" stroke="rgba(0,0,0,0.55)" stroke-width="0.8"/>
<circle cx="256" cy="293.97" r="1.25" fill="#111"/>
<circle cx="260" cy="293.97" r="1.25" fill="#111"/>
<circle cx="258" cy="296.18" r="1.25" fill="#111"/>
<circle cx="258" cy="297.65" r="1.25" fill="#111"/>
<line x1="272.2" y1="289.55" x2="272.2" y2="291.76" stroke="#222" stroke-width="0.8"/>
<line x1="270.5" y1="289.55" x2="273.9" y2="289.55" stroke="#222" stroke-width="0.8"/>
<line x1="272.2" y1="291.76" x2="272.2" y2="293.97" stroke="rgba(0,0,0,0.55)" stroke-width="0.8"/>
<line x1="270.5" y1="293.97" x2="273.9" y2="293.97" stroke="rgba(0,0,0,0.55)" stroke-width="0.8"/>
<circle cx="272.2" cy="279.96" r="1.25" fill="#111"/>
<circle cx="271.2" cy="287.33" r="1.25" fill="#111"/>
<circle cx="274.2" cy="289.55" r="1.25" fill="#111"/>
<circle cx="270.2" cy="291.76" r="1.25" fill="#111"/>
<circle cx="273.2" cy="293.97" r="1.25" fill="#111"/>
<circle cx="275.2" cy="296.18" r="1.25" fill="#111"/>
<circle cx="270.2" cy="297.65" r="1.25" fill="#111"/>
<line x1="286.4" y1="296.18" x2="286.4" y2="297.65" stroke="#222" stroke-width="0.8"/>
<line x1="284.7" y1="296.18" x2="288.1" y2="296.18" stroke="#222" stroke-width="0.8"/>
<line x1="286.4" y1="297.65" x2="286.4" y2="299.13" stroke="rgba(0,0,0,0.55)" stroke-width="0.8"/>
<line x1="284.7" y1="299.13" x2="288.1" y2="299.13" stroke="rgba(0,0,0,0.55)" stroke-width="0.8"/>
<circle cx="286.4" cy="293.97" r="1.25" fill="#111"/>
<circle cx="284.4" cy="296.92" r="1.25" fill="#111"/>
<circle cx="288.4" cy="297.65" r="1.25" fill="#111"/>
<circle cx="286.4" cy="299.13" r="1.25" fill="#111"/>
<line x1="300.6" y1="247.17" x2="300.6" y2="249.6" stroke="#222" stroke-width="0.8"/>
<line x1="298.9" y1="247.17" x2="302.3" y2="247.17" stroke="#222" stroke-width="0.8"/>
<line x1="300.6" y1="249.6" x2="300.6" y2="252.03" stroke="rgba(0,0,0,0.55)" stroke-width="0.8"/>
<line x1="298.9" y1="252.03" x2="302.3" y2="252.03" stroke="rgba(0,0,0,0.55)" stroke-width="0.8"/>
<circle cx="297.6" cy="242.38" r="1.25" fill="#111"/>
<circle cx="300.6" cy="243.11" r="1.25" fill="#111"/>
<circle cx="303.6" cy="242.38" r="1.25" fill="#111"/>
<circle cx="297.6" cy="246.06" r="1.25" fill="#111"/>
<circle cx="300.6" cy="246.21" r="1.25" fill="#111"/>
<circle cx="303.1" cy="245.69" r="1.25" fill="#111"/>
<circle cx="300.6" cy="248.27" r="1.25" fill="#111"/>
<circle cx="300.6" cy="265.96" r="1.25" fill="#111"/>
<circle cx="300.6" cy="269.65" r="1.25" fill="#111"/>
<line x1="314.8" y1="250.48" x2="314.8" y2="257.71" stroke="#222" stroke-width="0.8"/>
<line x1="313.1" y1="250.48" x2="316.5" y2="250.48" stroke="#222" stroke-width="0.8"/>
<line x1="314.8" y1="257.71" x2="314.8" y2="264.93" stroke="rgba(0,0,0,0.55)" stroke-width="0.8"/>
<line x1="313.1" y1="264.93" x2="316.5" y2="264.93" stroke="rgba(0,0,0,0.55)" stroke-width="0.8"/>
<circle cx="314.8" cy="245.47" r="1.25" fill="#111"/>
<circle cx="314.8" cy="259.33" r="1.25" fill="#111"/>
<circle cx="314.8" cy="267.44" r="1.25" fill="#111"/>
<circle cx="314.8" cy="273.7" r="1.25" fill="#111"/>
<line x1="329" y1="264.49" x2="329" y2="267.21" stroke="#222" stroke-width="0.8"/>
<line x1="327.3" y1="264.49" x2="330.7" y2="264.49" stroke="#222" stroke-width="0.8"/>
<line x1="329" y1="267.21" x2="329" y2="269.94" stroke="rgba(0,0,0,0.55)" stroke-width="0.8"/>
<line x1="327.3" y1="269.94" x2="330.7" y2="269.94" stroke="rgba(0,0,0,0.55)" stroke-width="0.8"/>
<circle cx="329" cy="256.38" r="1.25" fill="#111"/>
<circle cx="327" cy="260.29" r="1.25" fill="#111"/>
<circle cx="331" cy="261.69" r="1.25" fill="#111"/>
<circle cx="326" cy="265.96" r="1.25" fill="#111"/>
<circle cx="332" cy="268.17" r="1.25" fill="#111"/>
<circle cx="327" cy="277.02" r="1.25" fill="#111"/>
<circle cx="331" cy="277.02" r="1.25" fill="#111"/>
<line x1="343.2" y1="265.96" x2="343.2" y2="272.3" stroke="#222" stroke-width="0.8"/>
<line x1="341.5" y1="265.96" x2="344.9" y2="265.96" stroke="#222" stroke-width="0.8"/>
<line x1="343.2" y1="272.3" x2="343.2" y2="278.64" stroke="rgba(0,0,0,0.55)" stroke-width="0.8"/>
<line x1="341.5" y1="278.64" x2="344.9" y2="278.64" stroke="rgba(0,0,0,0.55)" stroke-width="0.8"/>
<circle cx="343.2" cy="254.39" r="1.25" fill="#111"/>
<circle cx="343.2" cy="270.38" r="1.25" fill="#111"/>
<circle cx="343.2" cy="273.7" r="1.25" fill="#111"/>
<circle cx="343.2" cy="277.75" r="1.25" fill="#111"/>
<circle cx="343.2" cy="284.02" r="1.25" fill="#111"/>
<line x1="234.5" y1="223.9" x2="234.5" y2="301.1" stroke="#1a1a1a" stroke-width="1.3"/>
<line x1="231.5" y1="300.6" x2="234.5" y2="300.6" stroke="#1a1a1a" stroke-width="1.3"/>
<text x="227.6" y="302.98" font-size="6.6" text-anchor="end" fill="#2b2b2b" font-weight="normal" stroke="#2b2b2b" stroke-width="0.06">0</text>
<line x1="231.5" y1="285.5" x2="234.5" y2="285.5" stroke="#1a1a1a" stroke-width="1"/>
<text x="227.6" y="288.24" font-size="6.6" text-anchor="end" fill="#2b2b2b" font-weight="normal" stroke="#2b2b2b" stroke-width="0.06">20</text>
<line x1="231.5" y1="271.5" x2="234.5" y2="271.5" stroke="#1a1a1a" stroke-width="1"/>
<text x="227.6" y="273.5" font-size="6.6" text-anchor="end" fill="#2b2b2b" font-weight="normal" stroke="#2b2b2b" stroke-width="0.06">40</text>
<line x1="231.5" y1="256.5" x2="234.5" y2="256.5" stroke="#1a1a1a" stroke-width="1"/>
<text x="227.6" y="258.76" font-size="6.6" text-anchor="end" fill="#2b2b2b" font-weight="normal" stroke="#2b2b2b" stroke-width="0.06">60</text>
<line x1="231.5" y1="241.5" x2="234.5" y2="241.5" stroke="#1a1a1a" stroke-width="1"/>
<text x="227.6" y="244.02" font-size="6.6" text-anchor="end" fill="#2b2b2b" font-weight="normal" stroke="#2b2b2b" stroke-width="0.06">80</text>
<line x1="231.5" y1="226.5" x2="234.5" y2="226.5" stroke="#1a1a1a" stroke-width="1"/>
<text x="227.6" y="229.28" font-size="6.6" text-anchor="end" fill="#2b2b2b" font-weight="normal" stroke="#2b2b2b" stroke-width="0.06">100</text>
<line x1="234" y1="300.6" x2="358.6" y2="300.6" stroke="#1a1a1a" stroke-width="1.3"/>
<text transform="translate(210.4 262.2) rotate(-90)" x="0" y="0" font-size="7.8" text-anchor="middle" fill="#333" font-weight="normal" textLength="26.5" lengthAdjust="spacingAndGlyphs" stroke="#333" stroke-width="0.12">% of CD8</text>
<line x1="239.8" y1="305.7" x2="288.9" y2="305.7" stroke="#7a7a7a" stroke-width="0.9"/>
<line x1="297.7" y1="305.7" x2="347.5" y2="305.7" stroke="#7a7a7a" stroke-width="0.9"/>
<line x1="240.1" y1="317.8" x2="259.7" y2="317.8" stroke="#7a7a7a" stroke-width="0.9"/>
<line x1="269.2" y1="317.8" x2="288.9" y2="317.8" stroke="#7a7a7a" stroke-width="0.9"/>
<line x1="297.7" y1="317.8" x2="317.5" y2="317.8" stroke="#7a7a7a" stroke-width="0.9"/>
<line x1="326.5" y1="317.8" x2="347.5" y2="317.8" stroke="#7a7a7a" stroke-width="0.9"/>
<text x="243.2" y="314.4" font-size="6.8" text-anchor="start" fill="#2b2b2b" font-weight="normal" stroke="#2b2b2b" stroke-width="0.06" textLength="42.6" lengthAdjust="spacingAndGlyphs">Unstransduced</text>
<text x="314.5" y="314.4" font-size="6.8" text-anchor="start" fill="#2b2b2b" font-weight="normal" stroke="#2b2b2b" stroke-width="0.06" textLength="13.8" lengthAdjust="spacingAndGlyphs">CAR</text>
<text x="240.7" y="327" font-size="6.8" text-anchor="start" fill="#2b2b2b" font-weight="normal" stroke="#2b2b2b" stroke-width="0.06" textLength="17.8" lengthAdjust="spacingAndGlyphs">Jeko-1</text>
<text x="272.7" y="327" font-size="6.8" text-anchor="start" fill="#2b2b2b" font-weight="normal" stroke="#2b2b2b" stroke-width="0.06" textLength="12.1" lengthAdjust="spacingAndGlyphs">CLL</text>
<text x="298.5" y="327" font-size="6.8" text-anchor="start" fill="#2b2b2b" font-weight="normal" stroke="#2b2b2b" stroke-width="0.06" textLength="17.8" lengthAdjust="spacingAndGlyphs">Jeko-1</text>
<text x="330.5" y="327" font-size="6.8" text-anchor="start" fill="#2b2b2b" font-weight="normal" stroke="#2b2b2b" stroke-width="0.06" textLength="12.1" lengthAdjust="spacingAndGlyphs">CLL</text>
<text x="210.1" y="327" font-size="6.8" text-anchor="start" fill="#2b2b2b" font-weight="normal" stroke="#2b2b2b" stroke-width="0.06" textLength="17.4" lengthAdjust="spacingAndGlyphs">Target</text>
<line x1="229.9" y1="325" x2="234.5" y2="325" stroke="#333" stroke-width="0.7"/>
<path d="M234 323.85L236.3 325L234 326.15Z" fill="#333"/>
<text x="443" y="202.9" font-size="9.6" text-anchor="start" fill="#2b2b2b" font-weight="normal" stroke="#2b2b2b" stroke-width="0.06" textLength="13.9" lengthAdjust="spacingAndGlyphs">IL-2</text>
<path d="M456.4 238.1V234.3H484.8V238.1" fill="none" stroke="#777" stroke-width="0.9"/>
<circle cx="466.1" cy="230.2" r="0.8" fill="#222"/>
<circle cx="469.1" cy="230.2" r="0.8" fill="#222"/>
<circle cx="472.1" cy="230.2" r="0.8" fill="#222"/>
<circle cx="475.1" cy="230.2" r="0.8" fill="#222"/>
<path d="M470.5 222.1V217.8H498.9V222.1" fill="none" stroke="#777" stroke-width="0.9"/>
<circle cx="480.2" cy="214" r="0.8" fill="#222"/>
<circle cx="483.2" cy="214" r="0.8" fill="#222"/>
<circle cx="486.2" cy="214" r="0.8" fill="#222"/>
<circle cx="489.2" cy="214" r="0.8" fill="#222"/>
<rect x="395.5" y="298.03" width="8.6" height="2.77" fill="#29a5e0"/>
<rect x="409.6" y="298.03" width="8.6" height="2.77" fill="#c8042c"/>
<rect x="423.7" y="298.5" width="8.6" height="2.31" fill="#29a5e0"/>
<rect x="437.8" y="299.88" width="8.6" height="0.92" fill="#c8042c"/>
<rect x="451.9" y="262.08" width="8.6" height="38.72" fill="#29a5e0"/>
<rect x="466" y="260.32" width="8.6" height="40.48" fill="#c8042c"/>
<rect x="480.1" y="289.28" width="8.6" height="11.53" fill="#29a5e0"/>
<rect x="494.2" y="288.45" width="8.6" height="12.35" fill="#c8042c"/>
<line x1="399.8" y1="297.11" x2="399.8" y2="298.03" stroke="#222" stroke-width="0.8"/>
<line x1="398.1" y1="297.11" x2="401.5" y2="297.11" stroke="#222" stroke-width="0.8"/>
<line x1="399.8" y1="298.03" x2="399.8" y2="298.96" stroke="rgba(0,0,0,0.55)" stroke-width="0.8"/>
<line x1="398.1" y1="298.96" x2="401.5" y2="298.96" stroke="rgba(0,0,0,0.55)" stroke-width="0.8"/>
<circle cx="399.8" cy="295.27" r="1.25" fill="#111"/>
<circle cx="396.8" cy="298.03" r="1.25" fill="#111"/>
<circle cx="402.8" cy="298.03" r="1.25" fill="#111"/>
<circle cx="398.3" cy="298.96" r="1.25" fill="#111"/>
<circle cx="401.3" cy="298.96" r="1.25" fill="#111"/>
<circle cx="399.8" cy="299.88" r="1.25" fill="#111"/>
<circle cx="396.8" cy="300.34" r="1.25" fill="#111"/>
<circle cx="402.8" cy="300.34" r="1.25" fill="#111"/>
<line x1="413.9" y1="296.65" x2="413.9" y2="298.03" stroke="#222" stroke-width="0.8"/>
<line x1="412.2" y1="296.65" x2="415.6" y2="296.65" stroke="#222" stroke-width="0.8"/>
<line x1="413.9" y1="298.03" x2="413.9" y2="299.42" stroke="rgba(0,0,0,0.55)" stroke-width="0.8"/>
<line x1="412.2" y1="299.42" x2="415.6" y2="299.42" stroke="rgba(0,0,0,0.55)" stroke-width="0.8"/>
<circle cx="413.9" cy="293.42" r="1.25" fill="#111"/>
<circle cx="411.9" cy="297.57" r="1.25" fill="#111"/>
<circle cx="415.9" cy="298.03" r="1.25" fill="#111"/>
<circle cx="413.9" cy="299.42" r="1.25" fill="#111"/>
<circle cx="410.9" cy="300.34" r="1.25" fill="#111"/>
<circle cx="416.9" cy="300.34" r="1.25" fill="#111"/>
<line x1="428" y1="297.57" x2="428" y2="298.5" stroke="#222" stroke-width="0.8"/>
<line x1="426.3" y1="297.57" x2="429.7" y2="297.57" stroke="#222" stroke-width="0.8"/>
<line x1="428" y1="298.5" x2="428" y2="299.42" stroke="rgba(0,0,0,0.55)" stroke-width="0.8"/>
<line x1="426.3" y1="299.42" x2="429.7" y2="299.42" stroke="rgba(0,0,0,0.55)" stroke-width="0.8"/>
<circle cx="426" cy="296.65" r="1.25" fill="#111"/>
<circle cx="430" cy="296.65" r="1.25" fill="#111"/>
<circle cx="428" cy="298.03" r="1.25" fill="#111"/>
<circle cx="425" cy="299.42" r="1.25" fill="#111"/>
<circle cx="431" cy="299.42" r="1.25" fill="#111"/>
<circle cx="428" cy="300.34" r="1.25" fill="#111"/>
<line x1="442.1" y1="299.42" x2="442.1" y2="299.88" stroke="#222" stroke-width="0.8"/>
<line x1="440.4" y1="299.42" x2="443.8" y2="299.42" stroke="#222" stroke-width="0.8"/>
<line x1="442.1" y1="299.88" x2="442.1" y2="300.34" stroke="rgba(0,0,0,0.55)" stroke-width="0.8"/>
<line x1="440.4" y1="300.34" x2="443.8" y2="300.34" stroke="rgba(0,0,0,0.55)" stroke-width="0.8"/>
<circle cx="440.1" cy="300.06" r="1.25" fill="#111"/>
<circle cx="442.1" cy="299.69" r="1.25" fill="#111"/>
<circle cx="444.1" cy="300.06" r="1.25" fill="#111"/>
<line x1="456.2" y1="259.31" x2="456.2" y2="262.08" stroke="#222" stroke-width="0.8"/>
<line x1="454.5" y1="259.31" x2="457.9" y2="259.31" stroke="#222" stroke-width="0.8"/>
<line x1="456.2" y1="262.08" x2="456.2" y2="264.84" stroke="rgba(0,0,0,0.55)" stroke-width="0.8"/>
<line x1="454.5" y1="264.84" x2="457.9" y2="264.84" stroke="rgba(0,0,0,0.55)" stroke-width="0.8"/>
<circle cx="453.2" cy="252.86" r="1.25" fill="#111"/>
<circle cx="455.2" cy="253.78" r="1.25" fill="#111"/>
<circle cx="457.2" cy="253.78" r="1.25" fill="#111"/>
<circle cx="459.2" cy="252.86" r="1.25" fill="#111"/>
<circle cx="456.2" cy="262.08" r="1.25" fill="#111"/>
<circle cx="456.2" cy="273.14" r="1.25" fill="#111"/>
<circle cx="456.2" cy="280.79" r="1.25" fill="#111"/>
<circle cx="456.2" cy="285.13" r="1.25" fill="#111"/>
<line x1="470.3" y1="252.86" x2="470.3" y2="260.32" stroke="#222" stroke-width="0.8"/>
<line x1="468.6" y1="252.86" x2="472" y2="252.86" stroke="#222" stroke-width="0.8"/>
<line x1="470.3" y1="260.32" x2="470.3" y2="267.79" stroke="rgba(0,0,0,0.55)" stroke-width="0.8"/>
<line x1="468.6" y1="267.79" x2="472" y2="267.79" stroke="rgba(0,0,0,0.55)" stroke-width="0.8"/>
<circle cx="470.3" cy="242.62" r="1.25" fill="#111"/>
<circle cx="470.3" cy="247.23" r="1.25" fill="#111"/>
<circle cx="470.3" cy="271.48" r="1.25" fill="#111"/>
<circle cx="470.3" cy="279.32" r="1.25" fill="#111"/>
<line x1="484.4" y1="286.05" x2="484.4" y2="289.28" stroke="#222" stroke-width="0.8"/>
<line x1="482.7" y1="286.05" x2="486.1" y2="286.05" stroke="#222" stroke-width="0.8"/>
<line x1="484.4" y1="289.28" x2="484.4" y2="292.5" stroke="rgba(0,0,0,0.55)" stroke-width="0.8"/>
<line x1="482.7" y1="292.5" x2="486.1" y2="292.5" stroke="rgba(0,0,0,0.55)" stroke-width="0.8"/>
<circle cx="482.6" cy="279.32" r="1.25" fill="#111"/>
<circle cx="486.2" cy="278.03" r="1.25" fill="#111"/>
<circle cx="482.4" cy="282.64" r="1.25" fill="#111"/>
<circle cx="485.4" cy="282.64" r="1.25" fill="#111"/>
<circle cx="484.4" cy="286.51" r="1.25" fill="#111"/>
<circle cx="481.4" cy="293.7" r="1.25" fill="#111"/>
<circle cx="484.4" cy="293.7" r="1.25" fill="#111"/>
<circle cx="487.4" cy="293.7" r="1.25" fill="#111"/>
<circle cx="481.4" cy="297.67" r="1.25" fill="#111"/>
<circle cx="484.4" cy="297.67" r="1.25" fill="#111"/>
<circle cx="487.4" cy="297.67" r="1.25" fill="#111"/>
<line x1="498.5" y1="283.28" x2="498.5" y2="288.45" stroke="#222" stroke-width="0.8"/>
<line x1="496.8" y1="283.28" x2="500.2" y2="283.28" stroke="#222" stroke-width="0.8"/>
<line x1="498.5" y1="288.45" x2="498.5" y2="293.61" stroke="rgba(0,0,0,0.55)" stroke-width="0.8"/>
<line x1="496.8" y1="293.61" x2="500.2" y2="293.61" stroke="rgba(0,0,0,0.55)" stroke-width="0.8"/>
<circle cx="498.5" cy="273.79" r="1.25" fill="#111"/>
<circle cx="498.5" cy="279.96" r="1.25" fill="#111"/>
<circle cx="498.5" cy="293.42" r="1.25" fill="#111"/>
<circle cx="498.5" cy="297.57" r="1.25" fill="#111"/>
<line x1="390.5" y1="224.04" x2="390.5" y2="301.3" stroke="#1a1a1a" stroke-width="1.3"/>
<line x1="387.5" y1="300.8" x2="390.5" y2="300.8" stroke="#1a1a1a" stroke-width="1.3"/>
<text x="383.6" y="303.25" font-size="6.8" text-anchor="end" fill="#2b2b2b" font-weight="normal" stroke="#2b2b2b" stroke-width="0.06">0</text>
<line x1="387.5" y1="282.5" x2="390.5" y2="282.5" stroke="#1a1a1a" stroke-width="1"/>
<text x="383.6" y="284.81" font-size="6.8" text-anchor="end" fill="#2b2b2b" font-weight="normal" stroke="#2b2b2b" stroke-width="0.06">20</text>
<line x1="387.5" y1="263.5" x2="390.5" y2="263.5" stroke="#1a1a1a" stroke-width="1"/>
<text x="383.6" y="266.37" font-size="6.8" text-anchor="end" fill="#2b2b2b" font-weight="normal" stroke="#2b2b2b" stroke-width="0.06">40</text>
<line x1="387.5" y1="245.5" x2="390.5" y2="245.5" stroke="#1a1a1a" stroke-width="1"/>
<text x="383.6" y="247.93" font-size="6.8" text-anchor="end" fill="#2b2b2b" font-weight="normal" stroke="#2b2b2b" stroke-width="0.06">60</text>
<line x1="387.5" y1="227.5" x2="390.5" y2="227.5" stroke="#1a1a1a" stroke-width="1"/>
<text x="383.6" y="229.49" font-size="6.8" text-anchor="end" fill="#2b2b2b" font-weight="normal" stroke="#2b2b2b" stroke-width="0.06">80</text>
<line x1="390" y1="300.8" x2="508.5" y2="300.8" stroke="#1a1a1a" stroke-width="1.3"/>
<text transform="translate(370.4 262.5) rotate(-90)" x="0" y="0" font-size="7.8" text-anchor="middle" fill="#333" font-weight="normal" textLength="26.5" lengthAdjust="spacingAndGlyphs" stroke="#333" stroke-width="0.12">% of CD8</text>
<line x1="396" y1="305.5" x2="445.1" y2="305.5" stroke="#7a7a7a" stroke-width="0.9"/>
<line x1="453.9" y1="305.5" x2="503" y2="305.5" stroke="#7a7a7a" stroke-width="0.9"/>
<line x1="396" y1="317.9" x2="416" y2="317.9" stroke="#7a7a7a" stroke-width="0.9"/>
<line x1="425" y1="317.9" x2="445.1" y2="317.9" stroke="#7a7a7a" stroke-width="0.9"/>
<line x1="453.9" y1="317.9" x2="473.5" y2="317.9" stroke="#7a7a7a" stroke-width="0.9"/>
<line x1="483.1" y1="317.9" x2="503" y2="317.9" stroke="#7a7a7a" stroke-width="0.9"/>
<text x="399.5" y="314.6" font-size="6.8" text-anchor="start" fill="#2b2b2b" font-weight="normal" stroke="#2b2b2b" stroke-width="0.06" textLength="43.9" lengthAdjust="spacingAndGlyphs">Unstransduced</text>
<text x="471.3" y="314.6" font-size="6.8" text-anchor="start" fill="#2b2b2b" font-weight="normal" stroke="#2b2b2b" stroke-width="0.06" textLength="14" lengthAdjust="spacingAndGlyphs">CAR</text>
<text x="397" y="326.8" font-size="6.8" text-anchor="start" fill="#2b2b2b" font-weight="normal" stroke="#2b2b2b" stroke-width="0.06" textLength="17.7" lengthAdjust="spacingAndGlyphs">Jeko-1</text>
<text x="429.5" y="326.8" font-size="6.8" text-anchor="start" fill="#2b2b2b" font-weight="normal" stroke="#2b2b2b" stroke-width="0.06" textLength="11.5" lengthAdjust="spacingAndGlyphs">CLL</text>
<text x="454.4" y="326.8" font-size="6.8" text-anchor="start" fill="#2b2b2b" font-weight="normal" stroke="#2b2b2b" stroke-width="0.06" textLength="17.7" lengthAdjust="spacingAndGlyphs">Jeko-1</text>
<text x="487.4" y="326.8" font-size="6.8" text-anchor="start" fill="#2b2b2b" font-weight="normal" stroke="#2b2b2b" stroke-width="0.06" textLength="11.5" lengthAdjust="spacingAndGlyphs">CLL</text>
<text x="366.1" y="326.8" font-size="6.8" text-anchor="start" fill="#2b2b2b" font-weight="normal" stroke="#2b2b2b" stroke-width="0.06" textLength="17.4" lengthAdjust="spacingAndGlyphs">Target</text>
<line x1="385.9" y1="324.8" x2="389.9" y2="324.8" stroke="#333" stroke-width="0.7"/>
<path d="M389.4 323.65L391.7 324.8L389.4 325.95Z" fill="#333"/>
<text x="89.6" y="346.1" font-size="9.4" text-anchor="start" fill="#2b2b2b" font-weight="normal" stroke="#2b2b2b" stroke-width="0.06" textLength="17.3" lengthAdjust="spacingAndGlyphs">IFNγ</text>
<path d="M104.4 377.2V373H133.7V377.2" fill="none" stroke="#777" stroke-width="0.9"/>
<circle cx="114.55" cy="370.1" r="0.8" fill="#222"/>
<circle cx="117.55" cy="370.1" r="0.8" fill="#222"/>
<circle cx="120.55" cy="370.1" r="0.8" fill="#222"/>
<circle cx="123.55" cy="370.1" r="0.8" fill="#222"/>
<path d="M118.4 361.7V357.3H147.5V361.7" fill="none" stroke="#777" stroke-width="0.9"/>
<circle cx="131.45" cy="353.9" r="0.8" fill="#222"/>
<circle cx="134.45" cy="353.9" r="0.8" fill="#222"/>
<rect x="44" y="434.33" width="8.7" height="3.67" fill="#29a5e0"/>
<rect x="58.17" y="435.25" width="8.7" height="2.75" fill="#c8042c"/>
<rect x="72.34" y="433.41" width="8.7" height="4.59" fill="#29a5e0"/>
<rect x="86.51" y="434.33" width="8.7" height="3.67" fill="#c8042c"/>
<rect x="100.68" y="403.57" width="8.7" height="34.43" fill="#29a5e0"/>
<rect x="114.85" y="404.95" width="8.7" height="33.05" fill="#c8042c"/>
<rect x="129.02" y="426.16" width="8.7" height="11.84" fill="#29a5e0"/>
<rect x="143.19" y="429.1" width="8.7" height="8.9" fill="#c8042c"/>
<line x1="48.35" y1="432.49" x2="48.35" y2="434.33" stroke="#222" stroke-width="0.8"/>
<line x1="46.65" y1="432.49" x2="50.05" y2="432.49" stroke="#222" stroke-width="0.8"/>
<line x1="48.35" y1="434.33" x2="48.35" y2="436.16" stroke="rgba(0,0,0,0.55)" stroke-width="0.8"/>
<line x1="46.65" y1="436.16" x2="50.05" y2="436.16" stroke="rgba(0,0,0,0.55)" stroke-width="0.8"/>
<circle cx="48.35" cy="428.82" r="1.25" fill="#111"/>
<circle cx="46.35" cy="431.57" r="1.25" fill="#111"/>
<circle cx="50.35" cy="432.49" r="1.25" fill="#111"/>
<circle cx="45.35" cy="434.33" r="1.25" fill="#111"/>
<circle cx="48.35" cy="434.79" r="1.25" fill="#111"/>
<circle cx="51.35" cy="435.7" r="1.25" fill="#111"/>
<circle cx="46.35" cy="436.62" r="1.25" fill="#111"/>
<circle cx="50.35" cy="437.08" r="1.25" fill="#111"/>
<circle cx="48.35" cy="437.54" r="1.25" fill="#111"/>
<circle cx="45.35" cy="437.54" r="1.25" fill="#111"/>
<circle cx="51.35" cy="437.54" r="1.25" fill="#111"/>
<line x1="62.52" y1="434.79" x2="62.52" y2="435.25" stroke="#222" stroke-width="0.8"/>
<line x1="60.82" y1="434.79" x2="64.22" y2="434.79" stroke="#222" stroke-width="0.8"/>
<line x1="62.52" y1="435.25" x2="62.52" y2="435.7" stroke="rgba(0,0,0,0.55)" stroke-width="0.8"/>
<line x1="60.82" y1="435.7" x2="64.22" y2="435.7" stroke="rgba(0,0,0,0.55)" stroke-width="0.8"/>
<circle cx="60.52" cy="435.25" r="1.25" fill="#111"/>
<circle cx="62.52" cy="435.06" r="1.25" fill="#111"/>
<circle cx="64.52" cy="435.25" r="1.25" fill="#111"/>
<circle cx="62.52" cy="436.62" r="1.25" fill="#111"/>
<line x1="76.69" y1="431.57" x2="76.69" y2="433.41" stroke="#222" stroke-width="0.8"/>
<line x1="74.99" y1="431.57" x2="78.39" y2="431.57" stroke="#222" stroke-width="0.8"/>
<line x1="76.69" y1="433.41" x2="76.69" y2="435.25" stroke="rgba(0,0,0,0.55)" stroke-width="0.8"/>
<line x1="74.99" y1="435.25" x2="78.39" y2="435.25" stroke="rgba(0,0,0,0.55)" stroke-width="0.8"/>
<circle cx="76.69" cy="426.07" r="1.25" fill="#111"/>
<circle cx="74.69" cy="428.82" r="1.25" fill="#111"/>
<circle cx="78.69" cy="428.82" r="1.25" fill="#111"/>
<circle cx="76.69" cy="432.49" r="1.25" fill="#111"/>
<circle cx="74.69" cy="435.25" r="1.25" fill="#111"/>
<circle cx="78.69" cy="436.16" r="1.25" fill="#111"/>
<circle cx="73.69" cy="437.08" r="1.25" fill="#111"/>
<circle cx="79.69" cy="437.27" r="1.25" fill="#111"/>
<circle cx="76.69" cy="437.54" r="1.25" fill="#111"/>
<line x1="90.86" y1="433.87" x2="90.86" y2="434.33" stroke="#222" stroke-width="0.8"/>
<line x1="89.16" y1="433.87" x2="92.56" y2="433.87" stroke="#222" stroke-width="0.8"/>
<line x1="90.86" y1="434.33" x2="90.86" y2="434.79" stroke="rgba(0,0,0,0.55)" stroke-width="0.8"/>
<line x1="89.16" y1="434.79" x2="92.56" y2="434.79" stroke="rgba(0,0,0,0.55)" stroke-width="0.8"/>
<circle cx="88.86" cy="434.33" r="1.25" fill="#111"/>
<circle cx="90.86" cy="434.33" r="1.25" fill="#111"/>
<circle cx="92.86" cy="434.33" r="1.25" fill="#111"/>
<circle cx="90.86" cy="436.16" r="1.25" fill="#111"/>
<line x1="105.03" y1="399.44" x2="105.03" y2="403.57" stroke="#222" stroke-width="0.8"/>
<line x1="103.33" y1="399.44" x2="106.73" y2="399.44" stroke="#222" stroke-width="0.8"/>
<line x1="105.03" y1="403.57" x2="105.03" y2="407.71" stroke="rgba(0,0,0,0.55)" stroke-width="0.8"/>
<line x1="103.33" y1="407.71" x2="106.73" y2="407.71" stroke="rgba(0,0,0,0.55)" stroke-width="0.8"/>
<circle cx="105.03" cy="382" r="1.25" fill="#111"/>
<circle cx="105.03" cy="386.96" r="1.25" fill="#111"/>
<circle cx="105.03" cy="392.28" r="1.25" fill="#111"/>
<circle cx="102.03" cy="401.28" r="1.25" fill="#111"/>
<circle cx="105.03" cy="403.12" r="1.25" fill="#111"/>
<circle cx="108.03" cy="404.03" r="1.25" fill="#111"/>
<circle cx="103.03" cy="407.71" r="1.25" fill="#111"/>
<circle cx="107.03" cy="408.62" r="1.25" fill="#111"/>
<circle cx="105.03" cy="410.46" r="1.25" fill="#111"/>
<line x1="119.2" y1="401.28" x2="119.2" y2="404.95" stroke="#222" stroke-width="0.8"/>
<line x1="117.5" y1="401.28" x2="120.9" y2="401.28" stroke="#222" stroke-width="0.8"/>
<line x1="119.2" y1="404.95" x2="119.2" y2="408.62" stroke="rgba(0,0,0,0.55)" stroke-width="0.8"/>
<line x1="117.5" y1="408.62" x2="120.9" y2="408.62" stroke="rgba(0,0,0,0.55)" stroke-width="0.8"/>
<circle cx="119.2" cy="401.28" r="1.25" fill="#111"/>
<circle cx="119.2" cy="406.79" r="1.25" fill="#111"/>
<line x1="133.37" y1="424.23" x2="133.37" y2="426.16" stroke="#222" stroke-width="0.8"/>
<line x1="131.67" y1="424.23" x2="135.07" y2="424.23" stroke="#222" stroke-width="0.8"/>
<line x1="133.37" y1="426.16" x2="133.37" y2="428.09" stroke="rgba(0,0,0,0.55)" stroke-width="0.8"/>
<line x1="131.67" y1="428.09" x2="135.07" y2="428.09" stroke="rgba(0,0,0,0.55)" stroke-width="0.8"/>
<circle cx="133.37" cy="416.89" r="1.25" fill="#111"/>
<circle cx="130.37" cy="423.31" r="1.25" fill="#111"/>
<circle cx="133.37" cy="424.23" r="1.25" fill="#111"/>
<circle cx="136.37" cy="425.15" r="1.25" fill="#111"/>
<circle cx="131.37" cy="428.82" r="1.25" fill="#111"/>
<circle cx="134.37" cy="431.57" r="1.25" fill="#111"/>
<circle cx="133.37" cy="434.33" r="1.25" fill="#111"/>
<line x1="147.54" y1="426.98" x2="147.54" y2="429.1" stroke="#222" stroke-width="0.8"/>
<line x1="145.84" y1="426.98" x2="149.24" y2="426.98" stroke="#222" stroke-width="0.8"/>
<line x1="147.54" y1="429.1" x2="147.54" y2="431.21" stroke="rgba(0,0,0,0.55)" stroke-width="0.8"/>
<line x1="145.84" y1="431.21" x2="149.24" y2="431.21" stroke="rgba(0,0,0,0.55)" stroke-width="0.8"/>
<circle cx="147.54" cy="426.98" r="1.25" fill="#111"/>
<circle cx="147.54" cy="430.66" r="1.25" fill="#111"/>
<line x1="38.5" y1="361.56" x2="38.5" y2="438.5" stroke="#1a1a1a" stroke-width="1.3"/>
<line x1="35.5" y1="438" x2="38.5" y2="438" stroke="#1a1a1a" stroke-width="1.3"/>
<text x="31.9" y="440.48" font-size="6.9" text-anchor="end" fill="#2b2b2b" font-weight="normal" stroke="#2b2b2b" stroke-width="0.06">0</text>
<line x1="35.5" y1="419.5" x2="38.5" y2="419.5" stroke="#1a1a1a" stroke-width="1"/>
<text x="31.9" y="422.12" font-size="6.9" text-anchor="end" fill="#2b2b2b" font-weight="normal" stroke="#2b2b2b" stroke-width="0.06">20</text>
<line x1="35.5" y1="401.5" x2="38.5" y2="401.5" stroke="#1a1a1a" stroke-width="1"/>
<text x="31.9" y="403.76" font-size="6.9" text-anchor="end" fill="#2b2b2b" font-weight="normal" stroke="#2b2b2b" stroke-width="0.06">40</text>
<line x1="35.5" y1="382.5" x2="38.5" y2="382.5" stroke="#1a1a1a" stroke-width="1"/>
<text x="31.9" y="385.4" font-size="6.9" text-anchor="end" fill="#2b2b2b" font-weight="normal" stroke="#2b2b2b" stroke-width="0.06">60</text>
<line x1="35.5" y1="364.5" x2="38.5" y2="364.5" stroke="#1a1a1a" stroke-width="1"/>
<text x="31.9" y="367.04" font-size="6.9" text-anchor="end" fill="#2b2b2b" font-weight="normal" stroke="#2b2b2b" stroke-width="0.06">80</text>
<line x1="38" y1="438" x2="158" y2="438" stroke="#1a1a1a" stroke-width="1.3"/>
<text transform="translate(18.6 399.6) rotate(-90)" x="0" y="0" font-size="7.8" text-anchor="middle" fill="#333" font-weight="normal" textLength="25.7" lengthAdjust="spacingAndGlyphs" stroke="#333" stroke-width="0.12">% of CD8</text>
<line x1="44" y1="442.8" x2="93.5" y2="442.8" stroke="#7a7a7a" stroke-width="0.9"/>
<line x1="102.1" y1="442.8" x2="151.7" y2="442.8" stroke="#7a7a7a" stroke-width="0.9"/>
<line x1="44.6" y1="455.3" x2="64.5" y2="455.3" stroke="#7a7a7a" stroke-width="0.9"/>
<line x1="73.1" y1="455.3" x2="93.9" y2="455.3" stroke="#7a7a7a" stroke-width="0.9"/>
<line x1="102.1" y1="455.3" x2="122.9" y2="455.3" stroke="#7a7a7a" stroke-width="0.9"/>
<line x1="131.4" y1="455.3" x2="151.7" y2="455.3" stroke="#7a7a7a" stroke-width="0.9"/>
<text x="46.5" y="451.8" font-size="6.8" text-anchor="start" fill="#2b2b2b" font-weight="normal" stroke="#2b2b2b" stroke-width="0.06" textLength="44.2" lengthAdjust="spacingAndGlyphs">Unstransduced</text>
<text x="120" y="451.8" font-size="6.8" text-anchor="start" fill="#2b2b2b" font-weight="normal" stroke="#2b2b2b" stroke-width="0.06" textLength="13.9" lengthAdjust="spacingAndGlyphs">CAR</text>
<text x="45.7" y="464.1" font-size="6.8" text-anchor="start" fill="#2b2b2b" font-weight="normal" stroke="#2b2b2b" stroke-width="0.06" textLength="17.3" lengthAdjust="spacingAndGlyphs">Jeko-1</text>
<text x="77.9" y="464.1" font-size="6.8" text-anchor="start" fill="#2b2b2b" font-weight="normal" stroke="#2b2b2b" stroke-width="0.06" textLength="10.7" lengthAdjust="spacingAndGlyphs">CLL</text>
<text x="102.6" y="464.1" font-size="6.8" text-anchor="start" fill="#2b2b2b" font-weight="normal" stroke="#2b2b2b" stroke-width="0.06" textLength="18.6" lengthAdjust="spacingAndGlyphs">Jeko-1</text>
<text x="135.3" y="464.1" font-size="6.8" text-anchor="start" fill="#2b2b2b" font-weight="normal" stroke="#2b2b2b" stroke-width="0.06" textLength="11.8" lengthAdjust="spacingAndGlyphs">CLL</text>
<text x="14.8" y="464.1" font-size="6.8" text-anchor="start" fill="#2b2b2b" font-weight="normal" stroke="#2b2b2b" stroke-width="0.06" textLength="17.4" lengthAdjust="spacingAndGlyphs">Target</text>
<line x1="34.6" y1="462.1" x2="39.2" y2="462.1" stroke="#333" stroke-width="0.7"/>
<path d="M38.7 460.95L41 462.1L38.7 463.25Z" fill="#333"/>
<text x="243.5" y="346.3" font-size="9.4" text-anchor="start" fill="#2b2b2b" font-weight="normal" stroke="#2b2b2b" stroke-width="0.06" textLength="20.7" lengthAdjust="spacingAndGlyphs">TNFα</text>
<rect x="199.9" y="431.11" width="8.7" height="6.89" fill="#29a5e0"/>
<rect x="214.1" y="431.85" width="8.7" height="6.15" fill="#c8042c"/>
<rect x="228.3" y="428.65" width="8.7" height="9.35" fill="#29a5e0"/>
<rect x="242.5" y="434.06" width="8.7" height="3.94" fill="#c8042c"/>
<rect x="256.7" y="413.89" width="8.7" height="24.11" fill="#29a5e0"/>
<rect x="270.9" y="422.26" width="8.7" height="15.74" fill="#c8042c"/>
<rect x="285.1" y="412.91" width="8.7" height="25.09" fill="#29a5e0"/>
<rect x="299.3" y="431.11" width="8.7" height="6.89" fill="#c8042c"/>
<line x1="204.25" y1="427.42" x2="204.25" y2="431.11" stroke="#222" stroke-width="0.8"/>
<line x1="202.55" y1="427.42" x2="205.95" y2="427.42" stroke="#222" stroke-width="0.8"/>
<line x1="204.25" y1="431.11" x2="204.25" y2="434.8" stroke="rgba(0,0,0,0.55)" stroke-width="0.8"/>
<line x1="202.55" y1="434.8" x2="205.95" y2="434.8" stroke="rgba(0,0,0,0.55)" stroke-width="0.8"/>
<circle cx="204.25" cy="410.94" r="1.25" fill="#111"/>
<circle cx="204.25" cy="415.12" r="1.25" fill="#111"/>
<circle cx="204.25" cy="418.57" r="1.25" fill="#111"/>
<circle cx="204.25" cy="422.26" r="1.25" fill="#111"/>
<circle cx="202.25" cy="430.62" r="1.25" fill="#111"/>
<circle cx="206.25" cy="433.08" r="1.25" fill="#111"/>
<circle cx="204.25" cy="435.54" r="1.25" fill="#111"/>
<circle cx="202.25" cy="436.77" r="1.25" fill="#111"/>
<circle cx="206.25" cy="436.77" r="1.25" fill="#111"/>
<line x1="218.45" y1="425.21" x2="218.45" y2="431.85" stroke="#222" stroke-width="0.8"/>
<line x1="216.75" y1="425.21" x2="220.15" y2="425.21" stroke="#222" stroke-width="0.8"/>
<line x1="218.45" y1="431.85" x2="218.45" y2="438" stroke="rgba(0,0,0,0.55)" stroke-width="0.8"/>
<line x1="216.75" y1="438" x2="220.15" y2="438" stroke="rgba(0,0,0,0.55)" stroke-width="0.8"/>
<circle cx="218.45" cy="406.76" r="1.25" fill="#111"/>
<circle cx="218.45" cy="433.08" r="1.25" fill="#111"/>
<circle cx="218.45" cy="436.77" r="1.25" fill="#111"/>
<line x1="232.65" y1="424.72" x2="232.65" y2="428.65" stroke="#222" stroke-width="0.8"/>
<line x1="230.95" y1="424.72" x2="234.35" y2="424.72" stroke="#222" stroke-width="0.8"/>
<line x1="232.65" y1="428.65" x2="232.65" y2="432.59" stroke="rgba(0,0,0,0.55)" stroke-width="0.8"/>
<line x1="230.95" y1="432.59" x2="234.35" y2="432.59" stroke="rgba(0,0,0,0.55)" stroke-width="0.8"/>
<circle cx="232.65" cy="409.71" r="1.25" fill="#111"/>
<circle cx="234.15" cy="410.45" r="1.25" fill="#111"/>
<circle cx="232.65" cy="420.78" r="1.25" fill="#111"/>
<circle cx="230.65" cy="430.62" r="1.25" fill="#111"/>
<circle cx="234.65" cy="435.54" r="1.25" fill="#111"/>
<circle cx="232.65" cy="436.77" r="1.25" fill="#111"/>
<line x1="246.85" y1="429.14" x2="246.85" y2="434.06" stroke="#222" stroke-width="0.8"/>
<line x1="245.15" y1="429.14" x2="248.55" y2="429.14" stroke="#222" stroke-width="0.8"/>
<line x1="246.85" y1="434.06" x2="246.85" y2="438" stroke="rgba(0,0,0,0.55)" stroke-width="0.8"/>
<line x1="245.15" y1="438" x2="248.55" y2="438" stroke="rgba(0,0,0,0.55)" stroke-width="0.8"/>
<circle cx="246.85" cy="415.86" r="1.25" fill="#111"/>
<circle cx="246.85" cy="435.54" r="1.25" fill="#111"/>
<line x1="261.05" y1="406.51" x2="261.05" y2="413.89" stroke="#222" stroke-width="0.8"/>
<line x1="259.35" y1="406.51" x2="262.75" y2="406.51" stroke="#222" stroke-width="0.8"/>
<line x1="261.05" y1="413.89" x2="261.05" y2="421.27" stroke="rgba(0,0,0,0.55)" stroke-width="0.8"/>
<line x1="259.35" y1="421.27" x2="262.75" y2="421.27" stroke="rgba(0,0,0,0.55)" stroke-width="0.8"/>
<circle cx="260.05" cy="374.29" r="1.25" fill="#111"/>
<circle cx="262.05" cy="380.19" r="1.25" fill="#111"/>
<circle cx="260.05" cy="382.65" r="1.25" fill="#111"/>
<circle cx="261.05" cy="388.8" r="1.25" fill="#111"/>
<circle cx="259.05" cy="419.8" r="1.25" fill="#111"/>
<circle cx="263.05" cy="424.96" r="1.25" fill="#111"/>
<circle cx="260.05" cy="429.14" r="1.25" fill="#111"/>
<circle cx="263.05" cy="434.31" r="1.25" fill="#111"/>
<circle cx="259.05" cy="435.54" r="1.25" fill="#111"/>
<line x1="275.25" y1="412.91" x2="275.25" y2="422.26" stroke="#222" stroke-width="0.8"/>
<line x1="273.55" y1="412.91" x2="276.95" y2="412.91" stroke="#222" stroke-width="0.8"/>
<line x1="275.25" y1="422.26" x2="275.25" y2="431.6" stroke="rgba(0,0,0,0.55)" stroke-width="0.8"/>
<line x1="273.55" y1="431.6" x2="276.95" y2="431.6" stroke="rgba(0,0,0,0.55)" stroke-width="0.8"/>
<circle cx="275.25" cy="390.28" r="1.25" fill="#111"/>
<circle cx="275.25" cy="418.57" r="1.25" fill="#111"/>
<circle cx="274.25" cy="428.16" r="1.25" fill="#111"/>
<circle cx="276.25" cy="433.08" r="1.25" fill="#111"/>
<line x1="289.45" y1="403.56" x2="289.45" y2="412.91" stroke="#222" stroke-width="0.8"/>
<line x1="287.75" y1="403.56" x2="291.15" y2="403.56" stroke="#222" stroke-width="0.8"/>
<line x1="289.45" y1="412.91" x2="289.45" y2="422.26" stroke="rgba(0,0,0,0.55)" stroke-width="0.8"/>
<line x1="287.75" y1="422.26" x2="291.15" y2="422.26" stroke="rgba(0,0,0,0.55)" stroke-width="0.8"/>
<circle cx="288.45" cy="373.3" r="1.25" fill="#111"/>
<circle cx="288.45" cy="380.19" r="1.25" fill="#111"/>
<circle cx="290.45" cy="381.42" r="1.25" fill="#111"/>
<circle cx="289.45" cy="392.24" r="1.25" fill="#111"/>
<circle cx="289.45" cy="420.78" r="1.25" fill="#111"/>
<circle cx="287.45" cy="434.31" r="1.25" fill="#111"/>
<circle cx="289.45" cy="434.31" r="1.25" fill="#111"/>
<circle cx="291.45" cy="434.31" r="1.25" fill="#111"/>
<line x1="303.65" y1="428.65" x2="303.65" y2="431.11" stroke="#222" stroke-width="0.8"/>
<line x1="301.95" y1="428.65" x2="305.35" y2="428.65" stroke="#222" stroke-width="0.8"/>
<line x1="303.65" y1="431.11" x2="303.65" y2="433.57" stroke="rgba(0,0,0,0.55)" stroke-width="0.8"/>
<line x1="301.95" y1="433.57" x2="305.35" y2="433.57" stroke="rgba(0,0,0,0.55)" stroke-width="0.8"/>
<circle cx="303.65" cy="423.73" r="1.25" fill="#111"/>
<circle cx="302.15" cy="429.14" r="1.25" fill="#111"/>
<circle cx="305.15" cy="429.14" r="1.25" fill="#111"/>
<circle cx="303.65" cy="435.54" r="1.25" fill="#111"/>
<line x1="194.5" y1="361.2" x2="194.5" y2="438.5" stroke="#1a1a1a" stroke-width="1.3"/>
<line x1="191.5" y1="438" x2="194.5" y2="438" stroke="#1a1a1a" stroke-width="1.3"/>
<text x="188" y="440.52" font-size="7" text-anchor="end" fill="#2b2b2b" font-weight="normal" stroke="#2b2b2b" stroke-width="0.06">0</text>
<line x1="191.5" y1="413.5" x2="194.5" y2="413.5" stroke="#1a1a1a" stroke-width="1"/>
<text x="188" y="415.92" font-size="7" text-anchor="end" fill="#2b2b2b" font-weight="normal" stroke="#2b2b2b" stroke-width="0.06">10</text>
<line x1="191.5" y1="388.5" x2="194.5" y2="388.5" stroke="#1a1a1a" stroke-width="1"/>
<text x="188" y="391.32" font-size="7" text-anchor="end" fill="#2b2b2b" font-weight="normal" stroke="#2b2b2b" stroke-width="0.06">20</text>
<line x1="191.5" y1="364.5" x2="194.5" y2="364.5" stroke="#1a1a1a" stroke-width="1"/>
<text x="188" y="366.72" font-size="7" text-anchor="end" fill="#2b2b2b" font-weight="normal" stroke="#2b2b2b" stroke-width="0.06">30</text>
<line x1="194" y1="438" x2="312.9" y2="438" stroke="#1a1a1a" stroke-width="1.3"/>
<text transform="translate(174.6 399.7) rotate(-90)" x="0" y="0" font-size="7.8" text-anchor="middle" fill="#333" font-weight="normal" textLength="26.5" lengthAdjust="spacingAndGlyphs" stroke="#333" stroke-width="0.12">% of CD8</text>
<line x1="199.9" y1="442.3" x2="249.3" y2="442.3" stroke="#7a7a7a" stroke-width="0.9"/>
<line x1="258" y1="442.3" x2="307.2" y2="442.3" stroke="#7a7a7a" stroke-width="0.9"/>
<line x1="200.5" y1="455" x2="220.7" y2="455" stroke="#7a7a7a" stroke-width="0.9"/>
<line x1="229" y1="455" x2="249.8" y2="455" stroke="#7a7a7a" stroke-width="0.9"/>
<line x1="258" y1="455" x2="278.5" y2="455" stroke="#7a7a7a" stroke-width="0.9"/>
<line x1="287" y1="455" x2="307.2" y2="455" stroke="#7a7a7a" stroke-width="0.9"/>
<text x="202.8" y="451.8" font-size="6.8" text-anchor="start" fill="#2b2b2b" font-weight="normal" stroke="#2b2b2b" stroke-width="0.06" textLength="43.5" lengthAdjust="spacingAndGlyphs">Unstransduced</text>
<text x="276" y="451.8" font-size="6.8" text-anchor="start" fill="#2b2b2b" font-weight="normal" stroke="#2b2b2b" stroke-width="0.06" textLength="13.7" lengthAdjust="spacingAndGlyphs">CAR</text>
<text x="201.1" y="463.8" font-size="6.8" text-anchor="start" fill="#2b2b2b" font-weight="normal" stroke="#2b2b2b" stroke-width="0.06" textLength="17.7" lengthAdjust="spacingAndGlyphs">Jeko-1</text>
<text x="233.4" y="463.8" font-size="6.8" text-anchor="start" fill="#2b2b2b" font-weight="normal" stroke="#2b2b2b" stroke-width="0.06" textLength="11.5" lengthAdjust="spacingAndGlyphs">CLL</text>
<text x="259.5" y="463.8" font-size="6.8" text-anchor="start" fill="#2b2b2b" font-weight="normal" stroke="#2b2b2b" stroke-width="0.06" textLength="17.7" lengthAdjust="spacingAndGlyphs">Jeko-1</text>
<text x="291.5" y="463.8" font-size="6.8" text-anchor="start" fill="#2b2b2b" font-weight="normal" stroke="#2b2b2b" stroke-width="0.06" textLength="11.5" lengthAdjust="spacingAndGlyphs">CLL</text>
<text x="170.9" y="463.8" font-size="6.8" text-anchor="start" fill="#2b2b2b" font-weight="normal" stroke="#2b2b2b" stroke-width="0.06" textLength="17.4" lengthAdjust="spacingAndGlyphs">Target</text>
<line x1="190.7" y1="461.8" x2="195.2" y2="461.8" stroke="#333" stroke-width="0.7"/>
<path d="M194.7 460.65L197 461.8L194.7 462.95Z" fill="#333"/>
<rect x="320.1" y="376.1" width="7.7" height="7.2" fill="#29a5e0"/>
<rect x="320.1" y="386.9" width="7.7" height="6.9" fill="#c8042c"/>
<text x="331" y="381.9" font-size="6.8" text-anchor="start" fill="#2b2b2b" font-weight="normal" stroke="#2b2b2b" stroke-width="0.06" textLength="10" lengthAdjust="spacingAndGlyphs">HD</text>
<text x="331" y="392.9" font-size="6.8" text-anchor="start" fill="#2b2b2b" font-weight="normal" stroke="#2b2b2b" stroke-width="0.06" textLength="11.7" lengthAdjust="spacingAndGlyphs">CLL</text>
</svg>
</body></html>
